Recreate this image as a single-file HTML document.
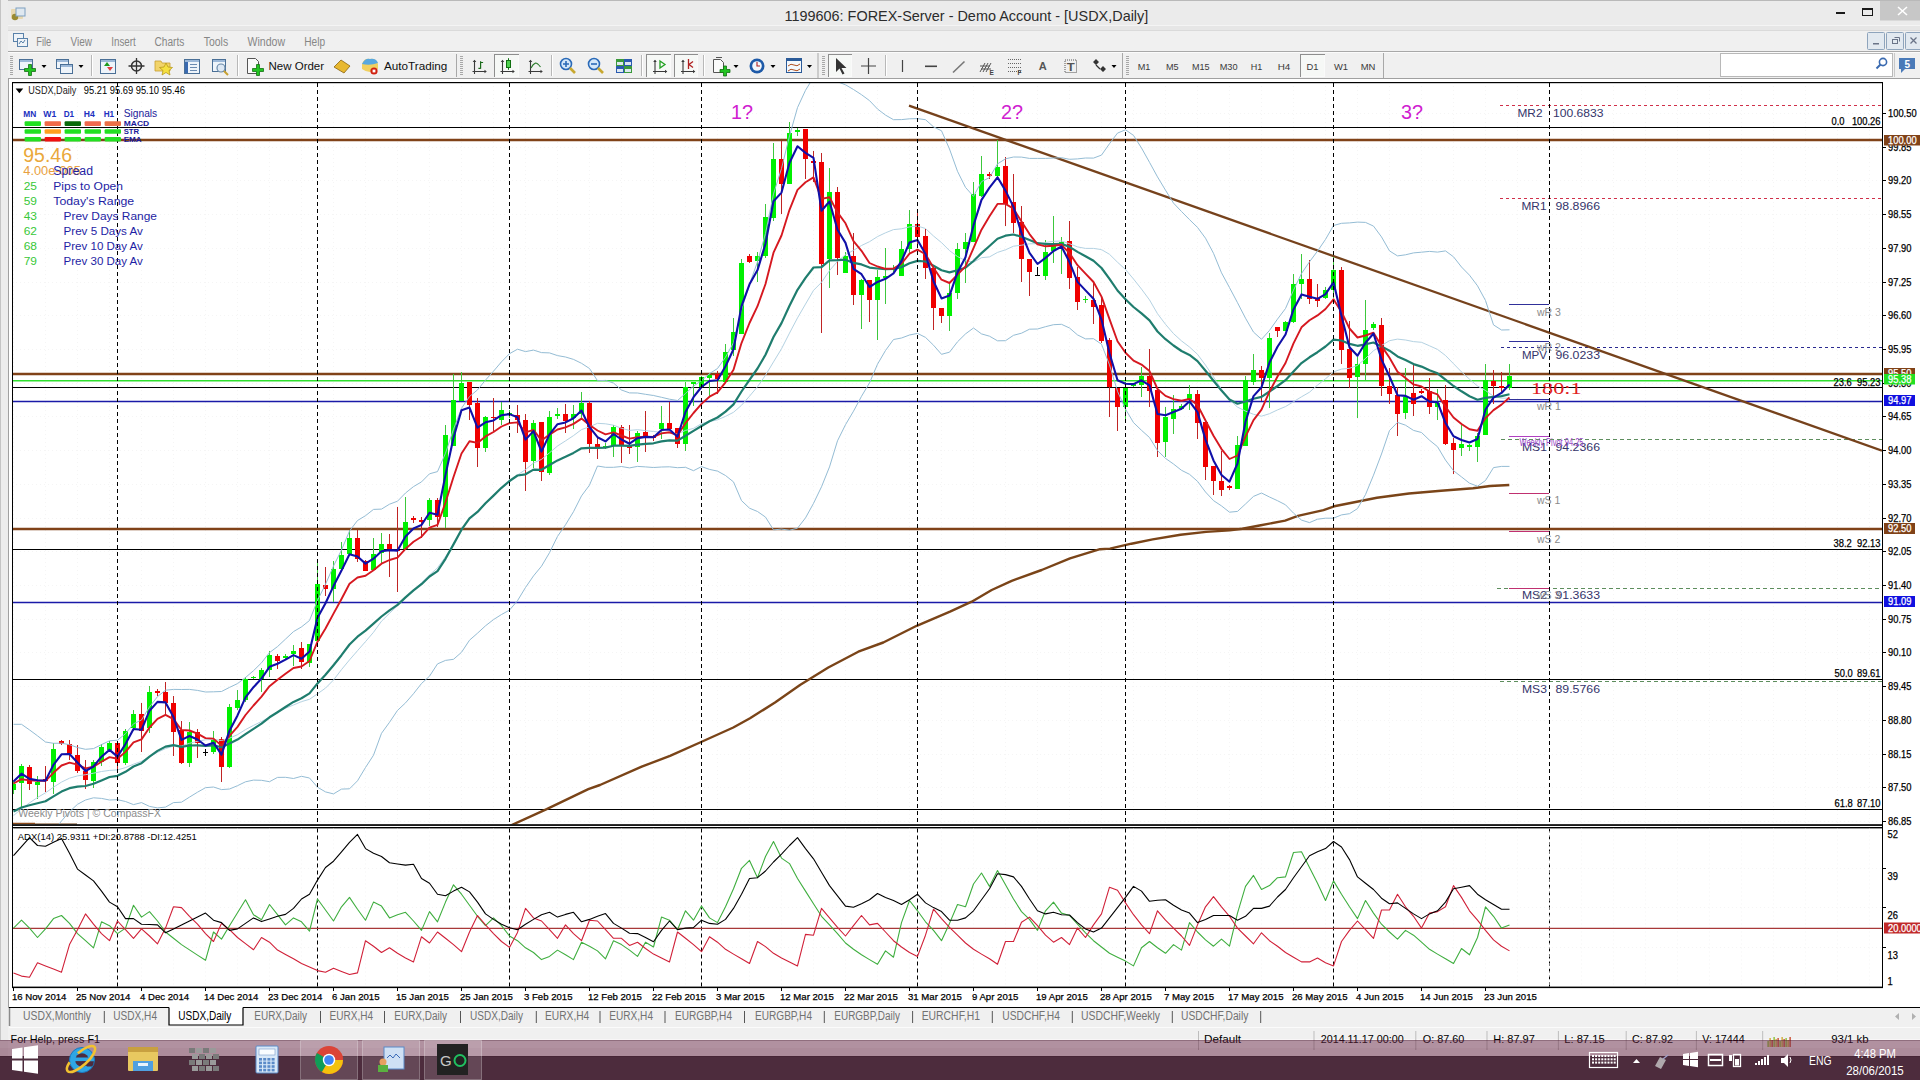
<!DOCTYPE html>
<html><head><meta charset="utf-8"><title>MT4 USDX Daily</title>
<style>html,body{margin:0;padding:0;width:1920px;height:1080px;overflow:hidden;background:#f0f0f0;}
svg{display:block;font-family:"Liberation Sans",sans-serif;}</style></head>
<body><svg width="1920" height="1080" viewBox="0 0 1920 1080" shape-rendering="auto">
<rect x="0" y="0" width="1920" height="1080" fill="#f0f0f0" />
<rect x="0" y="0" width="1920" height="30" fill="#ebebeb" />
<line x1="0" y1="0.5" x2="1920" y2="0.5" stroke="#b9b9b9" stroke-width="1" />
<line x1="8" y1="25.5" x2="1920" y2="25.5" stroke="#f4f4f4" stroke-width="1" />
<rect x="8" y="26" width="1912" height="4" fill="#e6e6e6" />
<rect x="0" y="0" width="8" height="1080" fill="#ececec" />
<line x1="0.5" y1="0" x2="0.5" y2="1040" stroke="#c4c4c4" stroke-width="1" />
<rect x="8" y="30" width="1912" height="21" fill="#f0f0f0" />
<line x1="8" y1="30.5" x2="1920" y2="30.5" stroke="#dadada" stroke-width="1" />
<line x1="8" y1="51.5" x2="1920" y2="51.5" stroke="#a8a8a8" stroke-width="1" />
<rect x="8" y="52" width="1912" height="26" fill="#f0f0f0" />
<line x1="8" y1="52.5" x2="1920" y2="52.5" stroke="#fbfbfb" stroke-width="1" />
<line x1="8" y1="78.5" x2="1920" y2="78.5" stroke="#a0a0a0" stroke-width="1" />
<rect x="9" y="79" width="1911" height="929" fill="#ffffff" />
<line x1="8.5" y1="78" x2="8.5" y2="1008" stroke="#a0a0a0" stroke-width="1" />
<defs><clipPath id="cm"><rect x="13" y="83" width="1869" height="741.5"/></clipPath><clipPath id="ca"><rect x="13" y="828.5" width="1869" height="158.0"/></clipPath></defs>
<g clip-path="url(#cm)">
<line x1="1869.5" y1="82" x2="1869.5" y2="825" stroke="#f5f5f5" stroke-width="1" stroke-dasharray="1 3" />
<line x1="1837.5" y1="82" x2="1837.5" y2="825" stroke="#f5f5f5" stroke-width="1" stroke-dasharray="1 3" />
<line x1="1805.5" y1="82" x2="1805.5" y2="825" stroke="#f5f5f5" stroke-width="1" stroke-dasharray="1 3" />
<line x1="1773.5" y1="82" x2="1773.5" y2="825" stroke="#f5f5f5" stroke-width="1" stroke-dasharray="1 3" />
<line x1="1741.5" y1="82" x2="1741.5" y2="825" stroke="#f5f5f5" stroke-width="1" stroke-dasharray="1 3" />
<line x1="1709.5" y1="82" x2="1709.5" y2="825" stroke="#f5f5f5" stroke-width="1" stroke-dasharray="1 3" />
<line x1="1677.5" y1="82" x2="1677.5" y2="825" stroke="#f5f5f5" stroke-width="1" stroke-dasharray="1 3" />
<line x1="1645.5" y1="82" x2="1645.5" y2="825" stroke="#f5f5f5" stroke-width="1" stroke-dasharray="1 3" />
<line x1="1613.5" y1="82" x2="1613.5" y2="825" stroke="#f5f5f5" stroke-width="1" stroke-dasharray="1 3" />
<line x1="1581.5" y1="82" x2="1581.5" y2="825" stroke="#f5f5f5" stroke-width="1" stroke-dasharray="1 3" />
<line x1="1549.5" y1="82" x2="1549.5" y2="825" stroke="#f5f5f5" stroke-width="1" stroke-dasharray="1 3" />
<line x1="1517.5" y1="82" x2="1517.5" y2="825" stroke="#f5f5f5" stroke-width="1" stroke-dasharray="1 3" />
<line x1="1485.5" y1="82" x2="1485.5" y2="825" stroke="#f5f5f5" stroke-width="1" stroke-dasharray="1 3" />
<line x1="1453.5" y1="82" x2="1453.5" y2="825" stroke="#f5f5f5" stroke-width="1" stroke-dasharray="1 3" />
<line x1="1421.5" y1="82" x2="1421.5" y2="825" stroke="#f5f5f5" stroke-width="1" stroke-dasharray="1 3" />
<line x1="1389.5" y1="82" x2="1389.5" y2="825" stroke="#f5f5f5" stroke-width="1" stroke-dasharray="1 3" />
<line x1="1357.5" y1="82" x2="1357.5" y2="825" stroke="#f5f5f5" stroke-width="1" stroke-dasharray="1 3" />
<line x1="1325.5" y1="82" x2="1325.5" y2="825" stroke="#f5f5f5" stroke-width="1" stroke-dasharray="1 3" />
<line x1="1293.5" y1="82" x2="1293.5" y2="825" stroke="#f5f5f5" stroke-width="1" stroke-dasharray="1 3" />
<line x1="1261.5" y1="82" x2="1261.5" y2="825" stroke="#f5f5f5" stroke-width="1" stroke-dasharray="1 3" />
<line x1="1229.5" y1="82" x2="1229.5" y2="825" stroke="#f5f5f5" stroke-width="1" stroke-dasharray="1 3" />
<line x1="1197.5" y1="82" x2="1197.5" y2="825" stroke="#f5f5f5" stroke-width="1" stroke-dasharray="1 3" />
<line x1="1165.5" y1="82" x2="1165.5" y2="825" stroke="#f5f5f5" stroke-width="1" stroke-dasharray="1 3" />
<line x1="1133.5" y1="82" x2="1133.5" y2="825" stroke="#f5f5f5" stroke-width="1" stroke-dasharray="1 3" />
<line x1="1101.5" y1="82" x2="1101.5" y2="825" stroke="#f5f5f5" stroke-width="1" stroke-dasharray="1 3" />
<line x1="1069.5" y1="82" x2="1069.5" y2="825" stroke="#f5f5f5" stroke-width="1" stroke-dasharray="1 3" />
<line x1="1037.5" y1="82" x2="1037.5" y2="825" stroke="#f5f5f5" stroke-width="1" stroke-dasharray="1 3" />
<line x1="1005.5" y1="82" x2="1005.5" y2="825" stroke="#f5f5f5" stroke-width="1" stroke-dasharray="1 3" />
<line x1="973.5" y1="82" x2="973.5" y2="825" stroke="#f5f5f5" stroke-width="1" stroke-dasharray="1 3" />
<line x1="941.5" y1="82" x2="941.5" y2="825" stroke="#f5f5f5" stroke-width="1" stroke-dasharray="1 3" />
<line x1="909.5" y1="82" x2="909.5" y2="825" stroke="#f5f5f5" stroke-width="1" stroke-dasharray="1 3" />
<line x1="877.5" y1="82" x2="877.5" y2="825" stroke="#f5f5f5" stroke-width="1" stroke-dasharray="1 3" />
<line x1="845.5" y1="82" x2="845.5" y2="825" stroke="#f5f5f5" stroke-width="1" stroke-dasharray="1 3" />
<line x1="813.5" y1="82" x2="813.5" y2="825" stroke="#f5f5f5" stroke-width="1" stroke-dasharray="1 3" />
<line x1="781.5" y1="82" x2="781.5" y2="825" stroke="#f5f5f5" stroke-width="1" stroke-dasharray="1 3" />
<line x1="749.5" y1="82" x2="749.5" y2="825" stroke="#f5f5f5" stroke-width="1" stroke-dasharray="1 3" />
<line x1="717.5" y1="82" x2="717.5" y2="825" stroke="#f5f5f5" stroke-width="1" stroke-dasharray="1 3" />
<line x1="685.5" y1="82" x2="685.5" y2="825" stroke="#f5f5f5" stroke-width="1" stroke-dasharray="1 3" />
<line x1="653.5" y1="82" x2="653.5" y2="825" stroke="#f5f5f5" stroke-width="1" stroke-dasharray="1 3" />
<line x1="621.5" y1="82" x2="621.5" y2="825" stroke="#f5f5f5" stroke-width="1" stroke-dasharray="1 3" />
<line x1="589.5" y1="82" x2="589.5" y2="825" stroke="#f5f5f5" stroke-width="1" stroke-dasharray="1 3" />
<line x1="557.5" y1="82" x2="557.5" y2="825" stroke="#f5f5f5" stroke-width="1" stroke-dasharray="1 3" />
<line x1="525.5" y1="82" x2="525.5" y2="825" stroke="#f5f5f5" stroke-width="1" stroke-dasharray="1 3" />
<line x1="493.5" y1="82" x2="493.5" y2="825" stroke="#f5f5f5" stroke-width="1" stroke-dasharray="1 3" />
<line x1="461.5" y1="82" x2="461.5" y2="825" stroke="#f5f5f5" stroke-width="1" stroke-dasharray="1 3" />
<line x1="429.5" y1="82" x2="429.5" y2="825" stroke="#f5f5f5" stroke-width="1" stroke-dasharray="1 3" />
<line x1="397.5" y1="82" x2="397.5" y2="825" stroke="#f5f5f5" stroke-width="1" stroke-dasharray="1 3" />
<line x1="365.5" y1="82" x2="365.5" y2="825" stroke="#f5f5f5" stroke-width="1" stroke-dasharray="1 3" />
<line x1="333.5" y1="82" x2="333.5" y2="825" stroke="#f5f5f5" stroke-width="1" stroke-dasharray="1 3" />
<line x1="301.5" y1="82" x2="301.5" y2="825" stroke="#f5f5f5" stroke-width="1" stroke-dasharray="1 3" />
<line x1="269.5" y1="82" x2="269.5" y2="825" stroke="#f5f5f5" stroke-width="1" stroke-dasharray="1 3" />
<line x1="237.5" y1="82" x2="237.5" y2="825" stroke="#f5f5f5" stroke-width="1" stroke-dasharray="1 3" />
<line x1="205.5" y1="82" x2="205.5" y2="825" stroke="#f5f5f5" stroke-width="1" stroke-dasharray="1 3" />
<line x1="173.5" y1="82" x2="173.5" y2="825" stroke="#f5f5f5" stroke-width="1" stroke-dasharray="1 3" />
<line x1="141.5" y1="82" x2="141.5" y2="825" stroke="#f5f5f5" stroke-width="1" stroke-dasharray="1 3" />
<line x1="109.5" y1="82" x2="109.5" y2="825" stroke="#f5f5f5" stroke-width="1" stroke-dasharray="1 3" />
<line x1="77.5" y1="82" x2="77.5" y2="825" stroke="#f5f5f5" stroke-width="1" stroke-dasharray="1 3" />
<line x1="45.5" y1="82" x2="45.5" y2="825" stroke="#f5f5f5" stroke-width="1" stroke-dasharray="1 3" />
<line x1="13.5" y1="82" x2="13.5" y2="825" stroke="#f5f5f5" stroke-width="1" stroke-dasharray="1 3" />
<line x1="12" y1="113.5" x2="1882" y2="113.5" stroke="#f5f5f5" stroke-width="1" stroke-dasharray="1 3" />
<line x1="12" y1="147.5" x2="1882" y2="147.5" stroke="#f5f5f5" stroke-width="1" stroke-dasharray="1 3" />
<line x1="12" y1="180.5" x2="1882" y2="180.5" stroke="#f5f5f5" stroke-width="1" stroke-dasharray="1 3" />
<line x1="12" y1="214.5" x2="1882" y2="214.5" stroke="#f5f5f5" stroke-width="1" stroke-dasharray="1 3" />
<line x1="12" y1="248.5" x2="1882" y2="248.5" stroke="#f5f5f5" stroke-width="1" stroke-dasharray="1 3" />
<line x1="12" y1="282.5" x2="1882" y2="282.5" stroke="#f5f5f5" stroke-width="1" stroke-dasharray="1 3" />
<line x1="12" y1="315.5" x2="1882" y2="315.5" stroke="#f5f5f5" stroke-width="1" stroke-dasharray="1 3" />
<line x1="12" y1="349.5" x2="1882" y2="349.5" stroke="#f5f5f5" stroke-width="1" stroke-dasharray="1 3" />
<line x1="12" y1="383.5" x2="1882" y2="383.5" stroke="#f5f5f5" stroke-width="1" stroke-dasharray="1 3" />
<line x1="12" y1="416.5" x2="1882" y2="416.5" stroke="#f5f5f5" stroke-width="1" stroke-dasharray="1 3" />
<line x1="12" y1="450.5" x2="1882" y2="450.5" stroke="#f5f5f5" stroke-width="1" stroke-dasharray="1 3" />
<line x1="12" y1="484.5" x2="1882" y2="484.5" stroke="#f5f5f5" stroke-width="1" stroke-dasharray="1 3" />
<line x1="12" y1="518.5" x2="1882" y2="518.5" stroke="#f5f5f5" stroke-width="1" stroke-dasharray="1 3" />
<line x1="12" y1="551.5" x2="1882" y2="551.5" stroke="#f5f5f5" stroke-width="1" stroke-dasharray="1 3" />
<line x1="12" y1="585.5" x2="1882" y2="585.5" stroke="#f5f5f5" stroke-width="1" stroke-dasharray="1 3" />
<line x1="12" y1="619.5" x2="1882" y2="619.5" stroke="#f5f5f5" stroke-width="1" stroke-dasharray="1 3" />
<line x1="12" y1="652.5" x2="1882" y2="652.5" stroke="#f5f5f5" stroke-width="1" stroke-dasharray="1 3" />
<line x1="12" y1="686.5" x2="1882" y2="686.5" stroke="#f5f5f5" stroke-width="1" stroke-dasharray="1 3" />
<line x1="12" y1="720.5" x2="1882" y2="720.5" stroke="#f5f5f5" stroke-width="1" stroke-dasharray="1 3" />
<line x1="12" y1="754.5" x2="1882" y2="754.5" stroke="#f5f5f5" stroke-width="1" stroke-dasharray="1 3" />
<line x1="12" y1="787.5" x2="1882" y2="787.5" stroke="#f5f5f5" stroke-width="1" stroke-dasharray="1 3" />
<line x1="12" y1="821.5" x2="1882" y2="821.5" stroke="#f5f5f5" stroke-width="1" stroke-dasharray="1 3" />
<line x1="1500" y1="105.5" x2="1882" y2="105.5" stroke="#d0304a" stroke-width="1" stroke-dasharray="3 3" />
<line x1="12" y1="127.5" x2="1882" y2="127.5" stroke="#000000" stroke-width="1" />
<line x1="12" y1="140" x2="1882" y2="140" stroke="#804218" stroke-width="2.4" />
<line x1="1500" y1="198.5" x2="1882" y2="198.5" stroke="#d0304a" stroke-width="1" stroke-dasharray="3 3" />
<line x1="1501" y1="347.5" x2="1882" y2="347.5" stroke="#2a2a90" stroke-width="1" stroke-dasharray="3 3" />
<line x1="12" y1="374" x2="1882" y2="374" stroke="#804218" stroke-width="2.4" />
<line x1="12" y1="380.8" x2="1882" y2="380.8" stroke="#2ee02e" stroke-width="1.6" />
<line x1="12" y1="387.5" x2="1882" y2="387.5" stroke="#000000" stroke-width="1" />
<line x1="12" y1="401.5" x2="1882" y2="401.5" stroke="#1a1aa8" stroke-width="1.4" />
<line x1="1501" y1="439.5" x2="1882" y2="439.5" stroke="#5e8e5e" stroke-width="1" stroke-dasharray="4 3" />
<line x1="12" y1="529" x2="1882" y2="529" stroke="#804218" stroke-width="2.4" />
<line x1="12" y1="549.5" x2="1882" y2="549.5" stroke="#000000" stroke-width="1" />
<line x1="1497" y1="588.5" x2="1882" y2="588.5" stroke="#5e8e5e" stroke-width="1" stroke-dasharray="4 3" />
<line x1="12" y1="602.5" x2="1882" y2="602.5" stroke="#1a1aa8" stroke-width="1.4" />
<line x1="12" y1="679.5" x2="1882" y2="679.5" stroke="#000000" stroke-width="1" />
<line x1="1500" y1="681.5" x2="1882" y2="681.5" stroke="#5e8e5e" stroke-width="1" stroke-dasharray="4 3" />
<line x1="12" y1="809.5" x2="1882" y2="809.5" stroke="#000000" stroke-width="1" />
<line x1="1509" y1="304.5" x2="1549" y2="304.5" stroke="#30309a" stroke-width="1.2" />
<line x1="1509" y1="341.5" x2="1549" y2="341.5" stroke="#30309a" stroke-width="1.2" />
<line x1="1509" y1="399.5" x2="1549" y2="399.5" stroke="#30309a" stroke-width="1.2" />
<line x1="1509" y1="436.5" x2="1549" y2="436.5" stroke="#b040c0" stroke-width="1.2" />
<line x1="1509" y1="493.5" x2="1549" y2="493.5" stroke="#c03070" stroke-width="1.2" />
<line x1="1509" y1="531.5" x2="1549" y2="531.5" stroke="#c03070" stroke-width="1.2" />
<line x1="1509" y1="588.5" x2="1549" y2="588.5" stroke="#c03070" stroke-width="1.2" />
<polyline points="510.0,825.8 546.7,809.2 588.3,789.2 600.0,785.0 641.7,766.7 670.0,755.8 700.0,742.5 733.3,727.5 750.0,718.3 775.0,702.5 800.0,685.0 828.3,667.5 858.3,651.7 883.3,642.5 916.7,625.8 950.0,611.7 971.7,601.7 991.7,590.0 1011.7,580.8 1041.7,570.0 1070.0,558.3 1100.0,549.2 1110.0,548.6 1131.4,543.7 1152.7,539.4 1180.5,534.7 1206.1,531.9 1229.6,530.4 1242.4,528.7 1259.5,525.5 1285.1,520.6 1297.9,515.9 1323.5,510.1 1334.2,506.3 1355.6,502.0 1376.9,497.8 1409.0,493.5 1441.0,490.7 1473.0,488.2 1490.1,486.0 1509.3,485.0" fill="none" stroke="#7a4418" stroke-width="2.4" stroke-linejoin="round" />
<line x1="13" y1="823.5" x2="35" y2="823.5" stroke="#8b4a1a" stroke-width="1.5" />
<line x1="35" y1="824.3" x2="77" y2="824.3" stroke="#6b3a10" stroke-width="1.5" />
<line x1="909" y1="105.6" x2="1882" y2="450.6" stroke="#76421c" stroke-width="2.3" />
<rect x="13" y="781" width="1" height="13" fill="#3cc83c" />
<rect x="11" y="784" width="5" height="6" fill="#00f000" />
<rect x="21" y="764" width="1" height="44" fill="#3cc83c" />
<rect x="19" y="766" width="5" height="17" fill="#00f000" />
<rect x="29" y="765" width="1" height="25" fill="#c02424" />
<rect x="27" y="767" width="5" height="17" fill="#f00000" />
<rect x="37" y="776" width="1" height="23" fill="#3cc83c" />
<rect x="35" y="782" width="5" height="3" fill="#00f000" />
<rect x="45" y="766" width="1" height="26" fill="#c02424" />
<rect x="43" y="779" width="5" height="2" fill="#f00000" />
<rect x="53" y="743" width="1" height="51" fill="#3cc83c" />
<rect x="51" y="749" width="5" height="33" fill="#00f000" />
<rect x="61" y="740" width="1" height="5" fill="#c02424" />
<rect x="59" y="741" width="5" height="3" fill="#f00000" />
<rect x="69" y="740" width="1" height="20" fill="#c02424" />
<rect x="67" y="744" width="5" height="10" fill="#f00000" />
<rect x="77" y="745" width="1" height="28" fill="#c02424" />
<rect x="75" y="755" width="5" height="16" fill="#f00000" />
<rect x="85" y="760" width="1" height="29" fill="#c02424" />
<rect x="83" y="771" width="5" height="9" fill="#f00000" />
<rect x="93" y="760" width="1" height="28" fill="#3cc83c" />
<rect x="91" y="762" width="5" height="19" fill="#00f000" />
<rect x="101" y="744" width="1" height="22" fill="#3cc83c" />
<rect x="99" y="747" width="5" height="15" fill="#00f000" />
<rect x="109" y="741" width="1" height="11" fill="#3cc83c" />
<rect x="107" y="743" width="5" height="7" fill="#00f000" />
<rect x="117" y="741" width="1" height="30" fill="#c02424" />
<rect x="115" y="743" width="5" height="20" fill="#f00000" />
<rect x="125" y="729" width="1" height="36" fill="#3cc83c" />
<rect x="123" y="731" width="5" height="32" fill="#00f000" />
<rect x="133" y="710" width="1" height="21" fill="#3cc83c" />
<rect x="131" y="714" width="5" height="14" fill="#00f000" />
<rect x="141" y="703" width="1" height="49" fill="#c02424" />
<rect x="139" y="714" width="5" height="17" fill="#f00000" />
<rect x="149" y="686" width="1" height="47" fill="#3cc83c" />
<rect x="147" y="692" width="5" height="36" fill="#00f000" />
<rect x="157" y="689" width="1" height="7" fill="#c02424" />
<rect x="155" y="691" width="5" height="2" fill="#f00000" />
<rect x="165" y="682" width="1" height="32" fill="#c02424" />
<rect x="163" y="692" width="5" height="11" fill="#f00000" />
<rect x="173" y="696" width="1" height="60" fill="#c02424" />
<rect x="171" y="703" width="5" height="29" fill="#f00000" />
<rect x="181" y="721" width="1" height="43" fill="#c02424" />
<rect x="179" y="730" width="5" height="33" fill="#f00000" />
<rect x="189" y="722" width="1" height="45" fill="#3cc83c" />
<rect x="187" y="732" width="5" height="31" fill="#00f000" />
<rect x="197" y="729" width="1" height="29" fill="#c02424" />
<rect x="195" y="732" width="5" height="11" fill="#f00000" />
<rect x="205" y="749" width="1" height="7" fill="#000000" />
<rect x="203" y="752" width="5" height="1" fill="#000000" />
<rect x="213" y="731" width="1" height="23" fill="#3cc83c" />
<rect x="211" y="740" width="5" height="12" fill="#00f000" />
<rect x="221" y="737" width="1" height="45" fill="#c02424" />
<rect x="219" y="739" width="5" height="28" fill="#f00000" />
<rect x="229" y="704" width="1" height="64" fill="#3cc83c" />
<rect x="227" y="707" width="5" height="60" fill="#00f000" />
<rect x="237" y="690" width="1" height="20" fill="#3cc83c" />
<rect x="235" y="700" width="5" height="8" fill="#00f000" />
<rect x="245" y="677" width="1" height="25" fill="#3cc83c" />
<rect x="243" y="679" width="5" height="21" fill="#00f000" />
<rect x="253" y="676" width="1" height="3" fill="#3cc83c" />
<rect x="251" y="677" width="5" height="1" fill="#00f000" />
<rect x="261" y="668" width="1" height="24" fill="#3cc83c" />
<rect x="259" y="670" width="5" height="9" fill="#00f000" />
<rect x="269" y="651" width="1" height="26" fill="#3cc83c" />
<rect x="267" y="655" width="5" height="15" fill="#00f000" />
<rect x="277" y="654" width="1" height="15" fill="#c02424" />
<rect x="275" y="656" width="5" height="5" fill="#f00000" />
<rect x="285" y="654" width="1" height="6" fill="#3cc83c" />
<rect x="283" y="656" width="5" height="2" fill="#00f000" />
<rect x="293" y="645" width="1" height="21" fill="#3cc83c" />
<rect x="291" y="651" width="5" height="3" fill="#00f000" />
<rect x="301" y="642" width="1" height="27" fill="#c02424" />
<rect x="299" y="648" width="5" height="14" fill="#f00000" />
<rect x="309" y="644" width="1" height="23" fill="#3cc83c" />
<rect x="307" y="644" width="5" height="19" fill="#00f000" />
<rect x="317" y="562" width="1" height="81" fill="#3cc83c" />
<rect x="315" y="584" width="5" height="57" fill="#00f000" />
<rect x="325" y="567" width="1" height="29" fill="#c02424" />
<rect x="323" y="585" width="5" height="4" fill="#f00000" />
<rect x="333" y="561" width="1" height="41" fill="#3cc83c" />
<rect x="331" y="569" width="5" height="20" fill="#00f000" />
<rect x="341" y="542" width="1" height="29" fill="#3cc83c" />
<rect x="339" y="555" width="5" height="14" fill="#00f000" />
<rect x="349" y="530" width="1" height="26" fill="#3cc83c" />
<rect x="347" y="538" width="5" height="16" fill="#00f000" />
<rect x="357" y="530" width="1" height="32" fill="#c02424" />
<rect x="355" y="538" width="5" height="21" fill="#f00000" />
<rect x="365" y="560" width="1" height="11" fill="#c02424" />
<rect x="363" y="561" width="5" height="10" fill="#f00000" />
<rect x="373" y="538" width="1" height="33" fill="#3cc83c" />
<rect x="371" y="554" width="5" height="16" fill="#00f000" />
<rect x="381" y="533" width="1" height="30" fill="#3cc83c" />
<rect x="379" y="544" width="5" height="9" fill="#00f000" />
<rect x="389" y="534" width="1" height="43" fill="#c02424" />
<rect x="387" y="544" width="5" height="5" fill="#f00000" />
<rect x="397" y="507" width="1" height="85" fill="#c02424" />
<rect x="395" y="550" width="5" height="1" fill="#f00000" />
<rect x="405" y="497" width="1" height="52" fill="#3cc83c" />
<rect x="403" y="522" width="5" height="27" fill="#00f000" />
<rect x="413" y="516" width="1" height="7" fill="#c02424" />
<rect x="411" y="518" width="5" height="2" fill="#f00000" />
<rect x="421" y="517" width="1" height="21" fill="#c02424" />
<rect x="419" y="520" width="5" height="2" fill="#f00000" />
<rect x="429" y="498" width="1" height="28" fill="#3cc83c" />
<rect x="427" y="500" width="5" height="20" fill="#00f000" />
<rect x="437" y="498" width="1" height="29" fill="#c02424" />
<rect x="435" y="500" width="5" height="17" fill="#f00000" />
<rect x="445" y="425" width="1" height="103" fill="#3cc83c" />
<rect x="443" y="435" width="5" height="82" fill="#00f000" />
<rect x="453" y="374" width="1" height="72" fill="#3cc83c" />
<rect x="451" y="400" width="5" height="46" fill="#00f000" />
<rect x="461" y="372" width="1" height="29" fill="#3cc83c" />
<rect x="459" y="383" width="5" height="18" fill="#00f000" />
<rect x="469" y="382" width="1" height="38" fill="#c02424" />
<rect x="467" y="382" width="5" height="23" fill="#f00000" />
<rect x="477" y="398" width="1" height="69" fill="#c02424" />
<rect x="475" y="403" width="5" height="45" fill="#f00000" />
<rect x="485" y="416" width="1" height="36" fill="#3cc83c" />
<rect x="483" y="417" width="5" height="31" fill="#00f000" />
<rect x="493" y="398" width="1" height="33" fill="#c02424" />
<rect x="491" y="417" width="5" height="1" fill="#f00000" />
<rect x="501" y="402" width="1" height="23" fill="#3cc83c" />
<rect x="499" y="410" width="5" height="10" fill="#00f000" />
<rect x="509" y="410" width="1" height="8" fill="#3cc83c" />
<rect x="507" y="413" width="5" height="2" fill="#00f000" />
<rect x="517" y="405" width="1" height="28" fill="#c02424" />
<rect x="515" y="415" width="5" height="5" fill="#f00000" />
<rect x="525" y="414" width="1" height="77" fill="#c02424" />
<rect x="523" y="420" width="5" height="42" fill="#f00000" />
<rect x="533" y="420" width="1" height="48" fill="#3cc83c" />
<rect x="531" y="423" width="5" height="38" fill="#00f000" />
<rect x="541" y="422" width="1" height="59" fill="#c02424" />
<rect x="539" y="422" width="5" height="50" fill="#f00000" />
<rect x="549" y="411" width="1" height="64" fill="#3cc83c" />
<rect x="547" y="417" width="5" height="56" fill="#00f000" />
<rect x="557" y="408" width="1" height="11" fill="#3cc83c" />
<rect x="555" y="414" width="5" height="2" fill="#00f000" />
<rect x="565" y="404" width="1" height="29" fill="#c02424" />
<rect x="563" y="414" width="5" height="7" fill="#f00000" />
<rect x="573" y="405" width="1" height="24" fill="#3cc83c" />
<rect x="571" y="414" width="5" height="4" fill="#00f000" />
<rect x="581" y="392" width="1" height="26" fill="#3cc83c" />
<rect x="579" y="403" width="5" height="11" fill="#00f000" />
<rect x="589" y="401" width="1" height="52" fill="#c02424" />
<rect x="587" y="403" width="5" height="41" fill="#f00000" />
<rect x="597" y="438" width="1" height="21" fill="#c02424" />
<rect x="595" y="444" width="5" height="3" fill="#f00000" />
<rect x="605" y="443" width="1" height="6" fill="#3cc83c" />
<rect x="603" y="446" width="5" height="2" fill="#00f000" />
<rect x="613" y="425" width="1" height="32" fill="#3cc83c" />
<rect x="611" y="427" width="5" height="19" fill="#00f000" />
<rect x="621" y="425" width="1" height="38" fill="#c02424" />
<rect x="619" y="427" width="5" height="18" fill="#f00000" />
<rect x="629" y="425" width="1" height="29" fill="#c02424" />
<rect x="627" y="446" width="5" height="2" fill="#f00000" />
<rect x="637" y="431" width="1" height="31" fill="#3cc83c" />
<rect x="635" y="433" width="5" height="14" fill="#00f000" />
<rect x="645" y="411" width="1" height="41" fill="#c02424" />
<rect x="643" y="432" width="5" height="4" fill="#f00000" />
<rect x="653" y="435" width="1" height="6" fill="#c02424" />
<rect x="651" y="436" width="5" height="2" fill="#f00000" />
<rect x="661" y="406" width="1" height="33" fill="#3cc83c" />
<rect x="659" y="423" width="5" height="6" fill="#00f000" />
<rect x="669" y="402" width="1" height="28" fill="#c02424" />
<rect x="667" y="423" width="5" height="6" fill="#f00000" />
<rect x="677" y="428" width="1" height="20" fill="#c02424" />
<rect x="675" y="428" width="5" height="16" fill="#f00000" />
<rect x="685" y="382" width="1" height="69" fill="#3cc83c" />
<rect x="683" y="387" width="5" height="57" fill="#00f000" />
<rect x="693" y="382" width="1" height="24" fill="#3cc83c" />
<rect x="691" y="382" width="5" height="2" fill="#00f000" />
<rect x="701" y="376" width="1" height="12" fill="#3cc83c" />
<rect x="699" y="377" width="5" height="10" fill="#00f000" />
<rect x="709" y="373" width="1" height="23" fill="#3cc83c" />
<rect x="707" y="375" width="5" height="3" fill="#00f000" />
<rect x="717" y="371" width="1" height="23" fill="#c02424" />
<rect x="715" y="374" width="5" height="5" fill="#f00000" />
<rect x="725" y="344" width="1" height="39" fill="#3cc83c" />
<rect x="723" y="352" width="5" height="30" fill="#00f000" />
<rect x="733" y="318" width="1" height="38" fill="#3cc83c" />
<rect x="731" y="332" width="5" height="18" fill="#00f000" />
<rect x="741" y="259" width="1" height="75" fill="#3cc83c" />
<rect x="739" y="263" width="5" height="71" fill="#00f000" />
<rect x="749" y="254" width="1" height="9" fill="#c02424" />
<rect x="747" y="256" width="5" height="6" fill="#f00000" />
<rect x="757" y="252" width="1" height="30" fill="#3cc83c" />
<rect x="755" y="256" width="5" height="5" fill="#00f000" />
<rect x="765" y="204" width="1" height="54" fill="#3cc83c" />
<rect x="763" y="217" width="5" height="39" fill="#00f000" />
<rect x="773" y="143" width="1" height="78" fill="#3cc83c" />
<rect x="771" y="159" width="5" height="59" fill="#00f000" />
<rect x="781" y="141" width="1" height="73" fill="#c02424" />
<rect x="779" y="159" width="5" height="25" fill="#f00000" />
<rect x="789" y="122" width="1" height="62" fill="#3cc83c" />
<rect x="787" y="133" width="5" height="51" fill="#00f000" />
<rect x="797" y="128" width="1" height="8" fill="#3cc83c" />
<rect x="795" y="130" width="5" height="2" fill="#00f000" />
<rect x="805" y="129" width="1" height="50" fill="#c02424" />
<rect x="803" y="129" width="5" height="30" fill="#f00000" />
<rect x="813" y="151" width="1" height="31" fill="#c02424" />
<rect x="811" y="161" width="5" height="2" fill="#f00000" />
<rect x="821" y="153" width="1" height="180" fill="#c02424" />
<rect x="819" y="162" width="5" height="102" fill="#f00000" />
<rect x="829" y="168" width="1" height="120" fill="#3cc83c" />
<rect x="827" y="192" width="5" height="67" fill="#00f000" />
<rect x="837" y="187" width="1" height="88" fill="#c02424" />
<rect x="835" y="192" width="5" height="66" fill="#f00000" />
<rect x="845" y="252" width="1" height="21" fill="#3cc83c" />
<rect x="843" y="256" width="5" height="17" fill="#00f000" />
<rect x="853" y="233" width="1" height="72" fill="#c02424" />
<rect x="851" y="256" width="5" height="39" fill="#f00000" />
<rect x="861" y="279" width="1" height="50" fill="#3cc83c" />
<rect x="859" y="280" width="5" height="15" fill="#00f000" />
<rect x="869" y="280" width="1" height="42" fill="#c02424" />
<rect x="867" y="280" width="5" height="20" fill="#f00000" />
<rect x="877" y="270" width="1" height="70" fill="#3cc83c" />
<rect x="875" y="277" width="5" height="23" fill="#00f000" />
<rect x="885" y="248" width="1" height="56" fill="#3cc83c" />
<rect x="883" y="276" width="5" height="2" fill="#00f000" />
<rect x="893" y="265" width="1" height="7" fill="#3cc83c" />
<rect x="891" y="268" width="5" height="2" fill="#00f000" />
<rect x="901" y="241" width="1" height="35" fill="#3cc83c" />
<rect x="899" y="249" width="5" height="27" fill="#00f000" />
<rect x="909" y="210" width="1" height="43" fill="#3cc83c" />
<rect x="907" y="224" width="5" height="25" fill="#00f000" />
<rect x="917" y="213" width="1" height="33" fill="#c02424" />
<rect x="915" y="224" width="5" height="13" fill="#f00000" />
<rect x="925" y="229" width="1" height="50" fill="#c02424" />
<rect x="923" y="236" width="5" height="32" fill="#f00000" />
<rect x="933" y="268" width="1" height="62" fill="#c02424" />
<rect x="931" y="268" width="5" height="40" fill="#f00000" />
<rect x="941" y="308" width="1" height="15" fill="#c02424" />
<rect x="939" y="308" width="5" height="8" fill="#f00000" />
<rect x="949" y="284" width="1" height="47" fill="#3cc83c" />
<rect x="947" y="293" width="5" height="23" fill="#00f000" />
<rect x="957" y="243" width="1" height="56" fill="#3cc83c" />
<rect x="955" y="249" width="5" height="44" fill="#00f000" />
<rect x="965" y="233" width="1" height="50" fill="#3cc83c" />
<rect x="963" y="242" width="5" height="7" fill="#00f000" />
<rect x="973" y="182" width="1" height="60" fill="#3cc83c" />
<rect x="971" y="194" width="5" height="48" fill="#00f000" />
<rect x="981" y="156" width="1" height="41" fill="#3cc83c" />
<rect x="979" y="174" width="5" height="22" fill="#00f000" />
<rect x="989" y="172" width="1" height="7" fill="#c02424" />
<rect x="987" y="174" width="5" height="2" fill="#f00000" />
<rect x="997" y="140" width="1" height="37" fill="#3cc83c" />
<rect x="995" y="167" width="5" height="9" fill="#00f000" />
<rect x="1005" y="157" width="1" height="69" fill="#c02424" />
<rect x="1003" y="166" width="5" height="38" fill="#f00000" />
<rect x="1013" y="174" width="1" height="59" fill="#c02424" />
<rect x="1011" y="202" width="5" height="21" fill="#f00000" />
<rect x="1021" y="206" width="1" height="76" fill="#c02424" />
<rect x="1019" y="222" width="5" height="37" fill="#f00000" />
<rect x="1029" y="259" width="1" height="37" fill="#c02424" />
<rect x="1027" y="259" width="5" height="13" fill="#f00000" />
<rect x="1037" y="267" width="1" height="9" fill="#000000" />
<rect x="1035" y="275" width="5" height="1" fill="#000000" />
<rect x="1045" y="240" width="1" height="40" fill="#3cc83c" />
<rect x="1043" y="252" width="5" height="24" fill="#00f000" />
<rect x="1053" y="216" width="1" height="47" fill="#3cc83c" />
<rect x="1051" y="244" width="5" height="7" fill="#00f000" />
<rect x="1061" y="237" width="1" height="37" fill="#3cc83c" />
<rect x="1059" y="242" width="5" height="4" fill="#00f000" />
<rect x="1069" y="221" width="1" height="68" fill="#c02424" />
<rect x="1067" y="241" width="5" height="37" fill="#f00000" />
<rect x="1077" y="267" width="1" height="43" fill="#c02424" />
<rect x="1075" y="277" width="5" height="25" fill="#f00000" />
<rect x="1085" y="296" width="1" height="7" fill="#3cc83c" />
<rect x="1083" y="299" width="5" height="1" fill="#00f000" />
<rect x="1093" y="282" width="1" height="42" fill="#c02424" />
<rect x="1091" y="300" width="5" height="7" fill="#f00000" />
<rect x="1101" y="298" width="1" height="45" fill="#c02424" />
<rect x="1099" y="305" width="5" height="36" fill="#f00000" />
<rect x="1109" y="338" width="1" height="79" fill="#c02424" />
<rect x="1107" y="340" width="5" height="47" fill="#f00000" />
<rect x="1117" y="388" width="1" height="43" fill="#c02424" />
<rect x="1115" y="388" width="5" height="19" fill="#f00000" />
<rect x="1125" y="382" width="1" height="41" fill="#3cc83c" />
<rect x="1123" y="388" width="5" height="19" fill="#00f000" />
<rect x="1133" y="383" width="1" height="4" fill="#3cc83c" />
<rect x="1131" y="384" width="5" height="2" fill="#00f000" />
<rect x="1141" y="367" width="1" height="30" fill="#3cc83c" />
<rect x="1139" y="376" width="5" height="9" fill="#00f000" />
<rect x="1149" y="349" width="1" height="58" fill="#c02424" />
<rect x="1147" y="376" width="5" height="15" fill="#f00000" />
<rect x="1157" y="390" width="1" height="67" fill="#c02424" />
<rect x="1155" y="390" width="5" height="53" fill="#f00000" />
<rect x="1165" y="407" width="1" height="50" fill="#3cc83c" />
<rect x="1163" y="417" width="5" height="25" fill="#00f000" />
<rect x="1173" y="395" width="1" height="39" fill="#3cc83c" />
<rect x="1171" y="409" width="5" height="10" fill="#00f000" />
<rect x="1181" y="404" width="1" height="6" fill="#3cc83c" />
<rect x="1179" y="406" width="5" height="3" fill="#00f000" />
<rect x="1189" y="385" width="1" height="25" fill="#3cc83c" />
<rect x="1187" y="394" width="5" height="5" fill="#00f000" />
<rect x="1197" y="390" width="1" height="49" fill="#c02424" />
<rect x="1195" y="394" width="5" height="29" fill="#f00000" />
<rect x="1205" y="422" width="1" height="58" fill="#c02424" />
<rect x="1203" y="422" width="5" height="45" fill="#f00000" />
<rect x="1213" y="466" width="1" height="29" fill="#c02424" />
<rect x="1211" y="466" width="5" height="15" fill="#f00000" />
<rect x="1221" y="451" width="1" height="45" fill="#c02424" />
<rect x="1219" y="481" width="5" height="9" fill="#f00000" />
<rect x="1229" y="485" width="1" height="5" fill="#c02424" />
<rect x="1227" y="486" width="5" height="2" fill="#f00000" />
<rect x="1237" y="436" width="1" height="53" fill="#3cc83c" />
<rect x="1235" y="445" width="5" height="44" fill="#00f000" />
<rect x="1245" y="376" width="1" height="70" fill="#3cc83c" />
<rect x="1243" y="380" width="5" height="66" fill="#00f000" />
<rect x="1253" y="354" width="1" height="31" fill="#3cc83c" />
<rect x="1251" y="370" width="5" height="12" fill="#00f000" />
<rect x="1261" y="366" width="1" height="35" fill="#c02424" />
<rect x="1259" y="370" width="5" height="8" fill="#f00000" />
<rect x="1269" y="333" width="1" height="75" fill="#3cc83c" />
<rect x="1267" y="338" width="5" height="40" fill="#00f000" />
<rect x="1277" y="327" width="1" height="10" fill="#c02424" />
<rect x="1275" y="327" width="5" height="4" fill="#f00000" />
<rect x="1285" y="321" width="1" height="10" fill="#3cc83c" />
<rect x="1283" y="322" width="5" height="9" fill="#00f000" />
<rect x="1293" y="274" width="1" height="49" fill="#3cc83c" />
<rect x="1291" y="284" width="5" height="38" fill="#00f000" />
<rect x="1301" y="254" width="1" height="45" fill="#3cc83c" />
<rect x="1299" y="279" width="5" height="5" fill="#00f000" />
<rect x="1309" y="260" width="1" height="44" fill="#c02424" />
<rect x="1307" y="279" width="5" height="20" fill="#f00000" />
<rect x="1317" y="284" width="1" height="23" fill="#c02424" />
<rect x="1315" y="298" width="5" height="3" fill="#f00000" />
<rect x="1325" y="287" width="1" height="12" fill="#3cc83c" />
<rect x="1323" y="290" width="5" height="8" fill="#00f000" />
<rect x="1333" y="257" width="1" height="41" fill="#3cc83c" />
<rect x="1331" y="270" width="5" height="20" fill="#00f000" />
<rect x="1341" y="267" width="1" height="97" fill="#c02424" />
<rect x="1339" y="270" width="5" height="80" fill="#f00000" />
<rect x="1349" y="321" width="1" height="67" fill="#c02424" />
<rect x="1347" y="349" width="5" height="29" fill="#f00000" />
<rect x="1357" y="357" width="1" height="61" fill="#3cc83c" />
<rect x="1355" y="364" width="5" height="13" fill="#00f000" />
<rect x="1365" y="300" width="1" height="81" fill="#3cc83c" />
<rect x="1363" y="330" width="5" height="34" fill="#00f000" />
<rect x="1373" y="322" width="1" height="8" fill="#3cc83c" />
<rect x="1371" y="324" width="5" height="4" fill="#00f000" />
<rect x="1381" y="318" width="1" height="78" fill="#c02424" />
<rect x="1379" y="325" width="5" height="61" fill="#f00000" />
<rect x="1389" y="368" width="1" height="36" fill="#c02424" />
<rect x="1387" y="386" width="5" height="8" fill="#f00000" />
<rect x="1397" y="387" width="1" height="49" fill="#c02424" />
<rect x="1395" y="395" width="5" height="19" fill="#f00000" />
<rect x="1405" y="368" width="1" height="51" fill="#3cc83c" />
<rect x="1403" y="397" width="5" height="16" fill="#00f000" />
<rect x="1413" y="364" width="1" height="52" fill="#c02424" />
<rect x="1411" y="393" width="5" height="11" fill="#f00000" />
<rect x="1421" y="389" width="1" height="5" fill="#c02424" />
<rect x="1419" y="391" width="5" height="2" fill="#f00000" />
<rect x="1429" y="378" width="1" height="36" fill="#c02424" />
<rect x="1427" y="391" width="5" height="16" fill="#f00000" />
<rect x="1437" y="389" width="1" height="31" fill="#3cc83c" />
<rect x="1435" y="403" width="5" height="4" fill="#00f000" />
<rect x="1445" y="385" width="1" height="60" fill="#c02424" />
<rect x="1443" y="400" width="5" height="44" fill="#f00000" />
<rect x="1453" y="438" width="1" height="36" fill="#c02424" />
<rect x="1451" y="443" width="5" height="7" fill="#f00000" />
<rect x="1461" y="425" width="1" height="31" fill="#3cc83c" />
<rect x="1459" y="444" width="5" height="4" fill="#00f000" />
<rect x="1469" y="444" width="1" height="7" fill="#3cc83c" />
<rect x="1467" y="445" width="5" height="2" fill="#00f000" />
<rect x="1477" y="433" width="1" height="29" fill="#3cc83c" />
<rect x="1475" y="436" width="5" height="11" fill="#00f000" />
<rect x="1485" y="364" width="1" height="71" fill="#3cc83c" />
<rect x="1483" y="380" width="5" height="55" fill="#00f000" />
<rect x="1493" y="370" width="1" height="34" fill="#c02424" />
<rect x="1491" y="381" width="5" height="5" fill="#f00000" />
<rect x="1501" y="372" width="1" height="20" fill="#c02424" />
<rect x="1499" y="386" width="5" height="2" fill="#f00000" />
<rect x="1509" y="364" width="1" height="26" fill="#3cc83c" />
<rect x="1507" y="376" width="5" height="12" fill="#00f000" />
<polyline points="13.5,724.3 21.5,724.3 29.5,729.9 37.5,735.8 45.5,742.0 53.5,743.3 61.5,743.2 69.5,744.7 77.5,747.5 85.5,749.3 93.5,748.6 101.5,744.6 109.5,740.8 117.5,740.2 125.5,733.7 133.5,723.8 141.5,720.0 149.5,706.8 157.5,696.6 165.5,690.2 173.5,689.4 181.5,689.5 189.5,689.4 197.5,690.4 205.5,692.0 213.5,691.8 221.5,691.5 229.5,687.4 237.5,683.6 245.5,677.5 253.5,670.7 261.5,662.8 269.5,652.6 277.5,646.6 285.5,639.1 293.5,631.6 301.5,626.9 309.5,620.5 317.5,600.4 325.5,584.3 333.5,566.0 341.5,550.0 349.5,531.0 357.5,520.5 365.5,515.7 373.5,509.4 381.5,509.1 389.5,504.2 397.5,501.2 405.5,493.0 413.5,486.6 421.5,481.9 429.5,473.8 437.5,471.6 445.5,453.2 453.5,429.2 461.5,408.3 469.5,396.5 477.5,389.9 485.5,380.1 493.5,371.2 501.5,361.8 509.5,353.7 517.5,349.2 525.5,351.6 533.5,350.1 541.5,352.6 549.5,352.9 557.5,355.6 565.5,357.0 573.5,359.4 581.5,363.3 589.5,368.5 597.5,380.7 605.5,380.4 613.5,383.0 621.5,390.0 629.5,392.9 637.5,393.0 645.5,394.3 653.5,395.5 661.5,397.3 669.5,399.2 677.5,400.5 685.5,393.5 693.5,386.1 701.5,380.6 709.5,373.6 717.5,368.5 725.5,357.2 733.5,342.7 741.5,310.0 749.5,284.3 757.5,261.8 765.5,233.4 773.5,193.9 781.5,168.5 789.5,135.9 797.5,107.6 805.5,90.3 813.5,77.3 821.5,78.0 829.5,74.2 837.5,81.8 845.5,84.8 853.5,89.5 861.5,94.7 869.5,100.6 877.5,109.0 885.5,115.1 893.5,119.7 901.5,119.6 909.5,118.8 917.5,118.6 925.5,119.7 933.5,126.8 941.5,130.8 949.5,149.0 957.5,171.3 965.5,187.4 973.5,196.4 981.5,181.6 989.5,177.6 997.5,163.9 1005.5,158.8 1013.5,157.0 1021.5,157.1 1029.5,158.4 1037.5,158.4 1045.5,158.4 1053.5,158.0 1061.5,157.7 1069.5,159.3 1077.5,158.9 1085.5,158.0 1093.5,158.1 1101.5,155.1 1109.5,143.7 1117.5,133.1 1125.5,129.8 1133.5,135.4 1141.5,148.0 1149.5,162.3 1157.5,176.9 1165.5,190.2 1173.5,203.1 1181.5,211.5 1189.5,219.6 1197.5,227.4 1205.5,238.2 1213.5,253.3 1221.5,272.8 1229.5,287.6 1237.5,302.7 1245.5,318.2 1253.5,332.1 1261.5,339.3 1269.5,330.4 1277.5,319.1 1285.5,308.5 1293.5,290.2 1301.5,273.5 1309.5,261.8 1317.5,251.1 1325.5,239.4 1333.5,225.5 1341.5,223.3 1349.5,222.9 1357.5,222.1 1365.5,222.4 1373.5,226.1 1381.5,236.9 1389.5,250.9 1397.5,255.9 1405.5,254.8 1413.5,252.9 1421.5,252.2 1429.5,251.4 1437.5,252.1 1445.5,250.9 1453.5,256.8 1461.5,267.0 1469.5,275.2 1477.5,285.8 1485.5,300.5 1493.5,324.9 1501.5,330.0 1509.5,329.8" fill="none" stroke="#94bcd4" stroke-width="1" stroke-linejoin="round" />
<polyline points="13.5,907.0 21.5,893.3 29.5,875.8 37.5,859.2 45.5,843.6 53.5,831.2 61.5,821.0 69.5,811.7 77.5,804.3 85.5,800.0 93.5,797.8 101.5,798.4 109.5,800.0 117.5,799.7 125.5,801.5 133.5,804.6 141.5,802.6 149.5,806.4 157.5,807.9 165.5,807.1 173.5,802.6 181.5,802.2 189.5,797.1 197.5,792.2 205.5,787.7 213.5,787.0 221.5,789.6 229.5,789.0 237.5,785.7 245.5,781.8 253.5,780.1 261.5,780.3 269.5,781.7 277.5,777.4 285.5,777.3 293.5,778.5 301.5,776.3 309.5,778.0 317.5,787.2 325.5,791.9 333.5,793.9 341.5,789.1 349.5,788.8 357.5,780.8 365.5,767.5 373.5,755.2 381.5,733.3 389.5,722.3 397.5,710.4 405.5,702.9 413.5,693.7 421.5,683.5 429.5,676.2 437.5,663.9 445.5,660.4 453.5,659.3 461.5,652.3 469.5,640.2 477.5,633.2 485.5,625.8 493.5,619.6 501.5,614.5 509.5,610.1 517.5,600.7 525.5,587.5 533.5,575.9 541.5,566.2 549.5,552.7 557.5,536.4 565.5,524.8 573.5,511.7 581.5,495.9 589.5,485.1 597.5,466.0 605.5,467.3 613.5,467.3 621.5,466.5 629.5,467.9 637.5,466.4 645.5,466.9 653.5,467.5 661.5,467.0 669.5,466.8 677.5,467.7 685.5,467.3 693.5,470.7 701.5,466.6 709.5,469.4 717.5,471.1 725.5,475.5 733.5,481.9 741.5,500.6 749.5,508.2 757.5,511.5 765.5,517.1 773.5,529.9 781.5,529.1 789.5,530.2 797.5,528.2 805.5,517.9 813.5,503.4 821.5,486.8 829.5,466.9 837.5,440.8 845.5,424.7 853.5,411.2 861.5,396.3 869.5,382.9 877.5,364.2 885.5,350.5 893.5,339.5 901.5,338.0 909.5,335.0 917.5,333.4 925.5,337.4 933.5,345.2 941.5,354.3 949.5,352.2 957.5,341.8 965.5,333.9 973.5,328.0 981.5,333.9 989.5,336.2 997.5,340.8 1005.5,340.7 1013.5,335.3 1021.5,333.2 1029.5,329.2 1037.5,329.0 1045.5,326.7 1053.5,324.7 1061.5,324.3 1069.5,328.0 1077.5,334.9 1085.5,338.9 1093.5,338.7 1101.5,344.2 1109.5,364.9 1117.5,391.3 1125.5,409.1 1133.5,422.6 1141.5,430.3 1149.5,437.5 1157.5,450.5 1165.5,458.4 1173.5,464.0 1181.5,470.3 1189.5,474.3 1197.5,481.3 1205.5,492.0 1213.5,500.6 1221.5,505.9 1229.5,512.2 1237.5,511.4 1245.5,504.0 1253.5,496.4 1261.5,493.0 1269.5,497.0 1277.5,500.7 1285.5,504.8 1293.5,513.1 1301.5,520.1 1309.5,522.6 1317.5,519.2 1325.5,518.2 1333.5,518.2 1341.5,514.9 1349.5,513.7 1357.5,508.6 1365.5,494.6 1373.5,475.2 1381.5,454.0 1389.5,430.5 1397.5,422.4 1405.5,425.2 1413.5,430.4 1421.5,432.5 1429.5,440.2 1437.5,446.7 1445.5,460.1 1453.5,470.7 1461.5,476.9 1469.5,483.2 1477.5,486.2 1485.5,480.5 1493.5,467.6 1501.5,466.4 1509.5,466.4" fill="none" stroke="#94bcd4" stroke-width="1" stroke-linejoin="round" />
<polyline points="13.5,815.6 21.5,808.8 29.5,802.9 37.5,797.5 45.5,792.8 53.5,787.2 61.5,782.1 69.5,778.2 77.5,775.9 85.5,774.7 93.5,773.2 101.5,771.5 109.5,770.4 117.5,769.9 125.5,767.6 133.5,764.2 141.5,761.3 149.5,756.6 157.5,752.3 165.5,748.6 173.5,746.0 181.5,745.9 189.5,743.3 197.5,741.3 205.5,739.8 213.5,739.4 221.5,740.5 229.5,738.2 237.5,734.7 245.5,729.6 253.5,725.4 261.5,721.5 269.5,717.1 277.5,712.0 285.5,708.2 293.5,705.0 301.5,701.6 309.5,699.3 317.5,693.8 325.5,688.1 333.5,680.0 341.5,669.6 349.5,659.9 357.5,650.7 365.5,641.6 373.5,632.3 381.5,621.2 389.5,613.3 397.5,605.8 405.5,598.0 413.5,590.1 421.5,582.7 429.5,575.0 437.5,567.8 445.5,556.8 453.5,544.3 461.5,530.3 469.5,518.3 477.5,511.5 485.5,502.9 493.5,495.4 501.5,488.1 509.5,481.9 517.5,475.0 525.5,469.6 533.5,463.0 541.5,459.4 549.5,452.8 557.5,446.0 565.5,440.9 573.5,435.6 581.5,429.6 589.5,426.8 597.5,423.3 605.5,423.8 613.5,425.2 621.5,428.3 629.5,430.4 637.5,429.7 645.5,430.6 653.5,431.5 661.5,432.2 669.5,433.0 677.5,434.1 685.5,430.4 693.5,428.4 701.5,423.6 709.5,421.5 717.5,419.8 725.5,416.4 733.5,412.3 741.5,405.3 749.5,396.2 757.5,386.7 765.5,375.2 773.5,361.9 781.5,348.8 789.5,333.1 797.5,317.9 805.5,304.1 813.5,290.4 821.5,282.4 829.5,270.6 837.5,261.3 845.5,254.7 853.5,250.3 861.5,245.5 869.5,241.7 877.5,236.6 885.5,232.8 893.5,229.6 901.5,228.8 909.5,226.9 917.5,226.0 925.5,228.5 933.5,236.0 941.5,242.6 949.5,250.6 957.5,256.5 965.5,260.7 973.5,262.2 981.5,257.7 989.5,256.9 997.5,252.4 1005.5,249.8 1013.5,246.2 1021.5,245.2 1029.5,243.8 1037.5,243.7 1045.5,242.5 1053.5,241.3 1061.5,241.0 1069.5,243.7 1077.5,246.9 1085.5,248.4 1093.5,248.4 1101.5,249.6 1109.5,254.3 1117.5,262.2 1125.5,269.5 1133.5,279.0 1141.5,289.1 1149.5,299.9 1157.5,313.7 1165.5,324.3 1173.5,333.6 1181.5,340.9 1189.5,347.0 1197.5,354.3 1205.5,365.1 1213.5,377.0 1221.5,389.3 1229.5,399.9 1237.5,407.1 1245.5,411.1 1253.5,414.3 1261.5,416.2 1269.5,413.7 1277.5,409.9 1285.5,406.6 1293.5,401.7 1301.5,396.8 1309.5,392.2 1317.5,385.1 1325.5,378.8 1333.5,371.9 1341.5,369.1 1349.5,368.3 1357.5,365.4 1365.5,358.5 1373.5,350.7 1381.5,345.5 1389.5,340.7 1397.5,339.1 1405.5,340.0 1413.5,341.6 1421.5,342.3 1429.5,345.8 1437.5,349.4 1445.5,355.5 1453.5,363.7 1461.5,371.9 1469.5,379.2 1477.5,386.0 1485.5,390.5 1493.5,396.3 1501.5,398.2 1509.5,398.1" fill="none" stroke="#b4d2e2" stroke-width="1" stroke-linejoin="round" />
<polyline points="13.5,811.6 21.5,807.5 29.5,805.3 37.5,803.2 45.5,801.2 53.5,796.4 61.5,791.6 69.5,788.2 77.5,786.6 85.5,786.0 93.5,783.8 101.5,780.4 109.5,777.0 117.5,775.8 125.5,771.8 133.5,766.5 141.5,763.2 149.5,756.7 157.5,750.9 165.5,746.6 173.5,745.2 181.5,746.8 189.5,745.5 197.5,745.3 205.5,745.8 213.5,745.3 221.5,747.2 229.5,743.6 237.5,739.6 245.5,734.1 253.5,728.9 261.5,723.6 269.5,717.3 277.5,712.2 285.5,707.0 293.5,701.9 301.5,698.3 309.5,693.4 317.5,683.4 325.5,674.8 333.5,665.2 341.5,655.2 349.5,644.5 357.5,636.7 365.5,630.7 373.5,623.7 381.5,616.5 389.5,610.3 397.5,604.9 405.5,597.4 413.5,590.4 421.5,584.2 429.5,576.5 437.5,571.1 445.5,558.8 453.5,544.4 461.5,529.7 469.5,518.3 477.5,511.9 485.5,503.3 493.5,495.6 501.5,487.8 509.5,481.0 517.5,475.5 525.5,474.3 533.5,469.6 541.5,469.8 549.5,465.0 557.5,460.4 565.5,456.8 573.5,452.9 581.5,448.3 589.5,447.9 597.5,447.9 605.5,447.6 613.5,445.7 621.5,445.7 629.5,445.9 637.5,444.7 645.5,443.9 653.5,443.3 661.5,441.4 669.5,440.3 677.5,440.6 685.5,435.8 693.5,430.9 701.5,426.0 709.5,421.3 717.5,417.5 725.5,411.6 733.5,404.4 741.5,391.5 749.5,379.8 757.5,368.5 765.5,354.8 773.5,337.0 781.5,323.1 789.5,305.8 797.5,289.8 805.5,277.9 813.5,267.5 821.5,267.1 829.5,260.3 837.5,260.1 845.5,259.7 853.5,262.9 861.5,264.4 869.5,267.6 877.5,268.5 885.5,269.1 893.5,269.0 901.5,267.2 909.5,263.3 917.5,260.9 925.5,261.5 933.5,265.8 941.5,270.3 949.5,272.4 957.5,270.3 965.5,267.7 973.5,261.0 981.5,253.1 989.5,246.0 997.5,238.8 1005.5,235.7 1013.5,234.5 1021.5,236.8 1029.5,240.0 1037.5,243.2 1045.5,244.0 1053.5,244.0 1061.5,243.8 1069.5,246.9 1077.5,251.9 1085.5,256.2 1093.5,260.8 1101.5,268.0 1109.5,278.8 1117.5,290.5 1125.5,299.3 1133.5,307.0 1141.5,313.4 1149.5,320.4 1157.5,331.5 1165.5,339.2 1173.5,345.5 1181.5,351.0 1189.5,354.9 1197.5,361.1 1205.5,370.7 1213.5,380.8 1221.5,390.6 1229.5,399.5 1237.5,403.7 1245.5,401.5 1253.5,398.7 1261.5,396.9 1269.5,391.5 1277.5,386.0 1285.5,380.2 1293.5,371.5 1301.5,363.1 1309.5,357.3 1317.5,352.2 1325.5,346.5 1333.5,339.6 1341.5,340.5 1349.5,343.9 1357.5,345.8 1365.5,344.3 1373.5,342.5 1381.5,346.4 1389.5,350.7 1397.5,356.4 1405.5,360.1 1413.5,364.1 1421.5,366.6 1429.5,370.3 1437.5,373.3 1445.5,379.7 1453.5,386.0 1461.5,391.3 1469.5,396.2 1477.5,399.7 1485.5,397.9 1493.5,396.9 1501.5,396.1 1509.5,394.3" fill="none" stroke="#1f7d6e" stroke-width="2.2" stroke-linejoin="round" />
<polyline points="13.5,783.5 21.5,779.2 29.5,780.4 37.5,780.7 45.5,780.8 53.5,772.8 61.5,765.5 69.5,762.7 77.5,764.6 85.5,768.4 93.5,766.8 101.5,761.8 109.5,757.1 117.5,758.7 125.5,751.9 133.5,742.4 141.5,739.4 149.5,727.5 157.5,718.9 165.5,714.9 173.5,719.1 181.5,730.0 189.5,730.5 197.5,733.6 205.5,738.1 213.5,738.6 221.5,745.6 229.5,735.9 237.5,726.9 245.5,715.0 253.5,705.5 261.5,696.6 269.5,686.2 277.5,679.8 285.5,673.8 293.5,668.0 301.5,666.5 309.5,661.0 317.5,641.7 325.5,628.5 333.5,613.6 341.5,599.0 349.5,583.7 357.5,577.5 365.5,575.8 373.5,570.3 381.5,563.7 389.5,560.0 397.5,557.7 405.5,548.9 413.5,541.8 421.5,536.7 429.5,527.6 437.5,524.9 445.5,502.5 453.5,477.0 461.5,453.5 469.5,441.3 477.5,442.9 485.5,436.4 493.5,432.0 501.5,426.5 509.5,423.1 517.5,422.4 525.5,432.3 533.5,429.9 541.5,440.5 549.5,434.6 557.5,429.5 565.5,427.3 573.5,423.9 581.5,418.6 589.5,425.0 597.5,430.5 605.5,434.3 613.5,432.4 621.5,435.5 629.5,438.6 637.5,437.2 645.5,436.8 653.5,436.9 661.5,433.4 669.5,432.3 677.5,435.2 685.5,423.2 693.5,413.0 701.5,403.9 709.5,396.7 717.5,392.4 725.5,382.3 733.5,369.8 741.5,343.1 749.5,323.0 757.5,306.2 765.5,284.0 773.5,252.7 781.5,235.5 789.5,209.8 797.5,189.9 805.5,182.2 813.5,177.4 821.5,198.9 829.5,197.3 837.5,212.4 845.5,223.3 853.5,241.2 861.5,250.8 869.5,263.0 877.5,266.5 885.5,268.8 893.5,268.6 901.5,263.6 909.5,253.7 917.5,249.6 925.5,254.2 933.5,267.7 941.5,279.7 949.5,283.0 957.5,274.6 965.5,266.4 973.5,248.2 981.5,229.7 989.5,216.2 997.5,203.9 1005.5,203.9 1013.5,208.7 1021.5,221.4 1029.5,234.1 1037.5,244.4 1045.5,246.3 1053.5,245.7 1061.5,244.8 1069.5,253.0 1077.5,265.2 1085.5,273.6 1093.5,282.0 1101.5,296.6 1109.5,319.1 1117.5,341.2 1125.5,352.7 1133.5,360.6 1141.5,364.6 1149.5,371.1 1157.5,389.0 1165.5,395.9 1173.5,399.1 1181.5,400.7 1189.5,399.0 1197.5,405.0 1205.5,420.5 1213.5,435.7 1221.5,449.1 1229.5,459.0 1237.5,455.5 1245.5,436.7 1253.5,420.1 1261.5,409.7 1269.5,391.7 1277.5,376.5 1285.5,363.0 1293.5,343.3 1301.5,327.3 1309.5,320.3 1317.5,315.4 1325.5,309.0 1333.5,299.3 1341.5,311.9 1349.5,328.5 1357.5,337.5 1365.5,335.5 1373.5,332.7 1381.5,345.9 1389.5,357.8 1397.5,371.8 1405.5,378.0 1413.5,384.4 1421.5,386.5 1429.5,391.6 1437.5,394.4 1445.5,406.7 1453.5,417.5 1461.5,424.0 1469.5,429.3 1477.5,430.8 1485.5,418.1 1493.5,410.1 1501.5,404.6 1509.5,397.5" fill="none" stroke="#d61820" stroke-width="1.9" stroke-linejoin="round" />
<polyline points="13.5,781.4 21.5,773.7 29.5,778.9 37.5,780.3 45.5,780.6 53.5,764.8 61.5,754.3 69.5,754.1 77.5,762.4 85.5,771.0 93.5,766.5 101.5,756.7 109.5,749.9 117.5,756.6 125.5,744.0 133.5,729.0 141.5,729.8 149.5,710.7 157.5,701.9 165.5,702.4 173.5,717.1 181.5,739.9 189.5,736.0 197.5,739.5 205.5,745.5 213.5,742.7 221.5,754.7 229.5,730.7 237.5,715.4 245.5,697.4 253.5,687.2 261.5,678.6 269.5,666.8 277.5,663.7 285.5,659.6 293.5,655.1 301.5,658.7 309.5,651.5 317.5,617.7 325.5,603.3 333.5,586.1 341.5,570.6 349.5,554.2 357.5,556.5 365.5,563.6 373.5,558.7 381.5,551.3 389.5,550.1 397.5,550.6 405.5,536.4 413.5,528.4 421.5,525.0 429.5,512.7 437.5,514.7 445.5,474.9 453.5,437.7 461.5,410.3 469.5,407.6 477.5,427.7 485.5,422.3 493.5,420.4 501.5,415.2 509.5,414.1 517.5,417.3 525.5,439.6 533.5,431.1 541.5,451.6 549.5,434.4 557.5,424.2 565.5,422.4 573.5,418.2 581.5,410.5 589.5,427.2 597.5,437.2 605.5,441.4 613.5,434.0 621.5,439.5 629.5,443.7 637.5,438.2 645.5,436.9 653.5,437.2 661.5,430.0 669.5,429.5 677.5,436.7 685.5,411.9 693.5,397.2 701.5,387.0 709.5,381.0 717.5,380.2 725.5,366.2 733.5,349.2 741.5,306.2 749.5,284.3 757.5,270.1 765.5,243.7 773.5,201.3 781.5,192.6 789.5,162.7 797.5,146.3 805.5,152.9 813.5,157.8 821.5,210.7 829.5,201.5 837.5,229.7 845.5,242.9 853.5,268.9 861.5,274.2 869.5,287.0 877.5,281.9 885.5,278.8 893.5,273.4 901.5,261.1 909.5,242.5 917.5,239.9 925.5,253.9 933.5,281.2 941.5,298.4 949.5,295.6 957.5,272.4 965.5,257.2 973.5,225.4 981.5,199.9 989.5,187.7 997.5,177.3 1005.5,190.6 1013.5,206.9 1021.5,233.2 1029.5,252.8 1037.5,264.0 1045.5,257.9 1053.5,251.0 1061.5,246.5 1069.5,262.1 1077.5,281.9 1085.5,290.4 1093.5,298.7 1101.5,319.6 1109.5,353.2 1117.5,380.2 1125.5,383.8 1133.5,384.1 1141.5,380.3 1149.5,385.4 1157.5,414.0 1165.5,415.3 1173.5,412.0 1181.5,408.8 1189.5,401.3 1197.5,412.1 1205.5,439.6 1213.5,460.4 1221.5,475.0 1229.5,481.7 1237.5,463.5 1245.5,421.7 1253.5,396.1 1261.5,387.3 1269.5,362.5 1277.5,346.8 1285.5,334.5 1293.5,309.4 1301.5,294.4 1309.5,296.8 1317.5,298.8 1325.5,294.2 1333.5,282.3 1341.5,315.9 1349.5,347.2 1357.5,355.8 1365.5,342.7 1373.5,333.5 1381.5,359.5 1389.5,376.5 1397.5,395.2 1405.5,395.9 1413.5,399.8 1421.5,396.2 1429.5,401.6 1437.5,402.2 1445.5,423.0 1453.5,436.3 1461.5,440.0 1469.5,442.5 1477.5,439.0 1485.5,409.5 1493.5,397.7 1501.5,392.9 1509.5,384.6" fill="none" stroke="#1010a8" stroke-width="2.1" stroke-linejoin="round" />
</g>
<line x1="117.5" y1="83" x2="117.5" y2="825" stroke="#000000" stroke-width="1" stroke-dasharray="4 3" />
<line x1="117.5" y1="828.5" x2="117.5" y2="987" stroke="#000000" stroke-width="1" stroke-dasharray="4 3" />
<line x1="317.5" y1="83" x2="317.5" y2="825" stroke="#000000" stroke-width="1" stroke-dasharray="4 3" />
<line x1="317.5" y1="828.5" x2="317.5" y2="987" stroke="#000000" stroke-width="1" stroke-dasharray="4 3" />
<line x1="509.5" y1="83" x2="509.5" y2="825" stroke="#000000" stroke-width="1" stroke-dasharray="4 3" />
<line x1="509.5" y1="828.5" x2="509.5" y2="987" stroke="#000000" stroke-width="1" stroke-dasharray="4 3" />
<line x1="701.5" y1="83" x2="701.5" y2="825" stroke="#000000" stroke-width="1" stroke-dasharray="4 3" />
<line x1="701.5" y1="828.5" x2="701.5" y2="987" stroke="#000000" stroke-width="1" stroke-dasharray="4 3" />
<line x1="917.5" y1="83" x2="917.5" y2="825" stroke="#000000" stroke-width="1" stroke-dasharray="4 3" />
<line x1="917.5" y1="828.5" x2="917.5" y2="987" stroke="#000000" stroke-width="1" stroke-dasharray="4 3" />
<line x1="1125.5" y1="83" x2="1125.5" y2="825" stroke="#000000" stroke-width="1" stroke-dasharray="4 3" />
<line x1="1125.5" y1="828.5" x2="1125.5" y2="987" stroke="#000000" stroke-width="1" stroke-dasharray="4 3" />
<line x1="1333.5" y1="83" x2="1333.5" y2="825" stroke="#000000" stroke-width="1" stroke-dasharray="4 3" />
<line x1="1333.5" y1="828.5" x2="1333.5" y2="987" stroke="#000000" stroke-width="1" stroke-dasharray="4 3" />
<line x1="1549.5" y1="83" x2="1549.5" y2="825" stroke="#000000" stroke-width="1" stroke-dasharray="4 3" />
<line x1="1549.5" y1="828.5" x2="1549.5" y2="987" stroke="#000000" stroke-width="1" stroke-dasharray="4 3" />
<rect x="12" y="82" width="1871" height="1.2" fill="#000" />
<rect x="12" y="824.2" width="1871" height="1.7" fill="#000" />
<rect x="12" y="827" width="1871" height="1.4" fill="#000" />
<rect x="12" y="986.6" width="1871" height="1.5" fill="#000" />
<rect x="12" y="82" width="1" height="906" fill="#000" />
<rect x="1882" y="82" width="1" height="906" fill="#000" />
<line x1="1882" y1="113.5" x2="1886" y2="113.5" stroke="#000" stroke-width="1" />
<text x="1888" y="116.8" font-family="Liberation Sans" font-size="10.4" fill="#000" textLength="28.62" lengthAdjust="spacingAndGlyphs" stroke="#000" stroke-width="0.25">100.50</text>
<line x1="1882" y1="147.5" x2="1886" y2="147.5" stroke="#000" stroke-width="1" />
<text x="1888" y="150.8" font-family="Liberation Sans" font-size="10.4" fill="#000" textLength="23.42" lengthAdjust="spacingAndGlyphs" stroke="#000" stroke-width="0.25">99.85</text>
<line x1="1882" y1="180.5" x2="1886" y2="180.5" stroke="#000" stroke-width="1" />
<text x="1888" y="183.8" font-family="Liberation Sans" font-size="10.4" fill="#000" textLength="23.42" lengthAdjust="spacingAndGlyphs" stroke="#000" stroke-width="0.25">99.20</text>
<line x1="1882" y1="214.5" x2="1886" y2="214.5" stroke="#000" stroke-width="1" />
<text x="1888" y="217.8" font-family="Liberation Sans" font-size="10.4" fill="#000" textLength="23.42" lengthAdjust="spacingAndGlyphs" stroke="#000" stroke-width="0.25">98.55</text>
<line x1="1882" y1="248.5" x2="1886" y2="248.5" stroke="#000" stroke-width="1" />
<text x="1888" y="251.8" font-family="Liberation Sans" font-size="10.4" fill="#000" textLength="23.42" lengthAdjust="spacingAndGlyphs" stroke="#000" stroke-width="0.25">97.90</text>
<line x1="1882" y1="282.5" x2="1886" y2="282.5" stroke="#000" stroke-width="1" />
<text x="1888" y="285.8" font-family="Liberation Sans" font-size="10.4" fill="#000" textLength="23.42" lengthAdjust="spacingAndGlyphs" stroke="#000" stroke-width="0.25">97.25</text>
<line x1="1882" y1="315.5" x2="1886" y2="315.5" stroke="#000" stroke-width="1" />
<text x="1888" y="318.8" font-family="Liberation Sans" font-size="10.4" fill="#000" textLength="23.42" lengthAdjust="spacingAndGlyphs" stroke="#000" stroke-width="0.25">96.60</text>
<line x1="1882" y1="349.5" x2="1886" y2="349.5" stroke="#000" stroke-width="1" />
<text x="1888" y="352.8" font-family="Liberation Sans" font-size="10.4" fill="#000" textLength="23.42" lengthAdjust="spacingAndGlyphs" stroke="#000" stroke-width="0.25">95.95</text>
<line x1="1882" y1="383.5" x2="1886" y2="383.5" stroke="#000" stroke-width="1" />
<text x="1888" y="386.8" font-family="Liberation Sans" font-size="10.4" fill="#000" textLength="23.42" lengthAdjust="spacingAndGlyphs" stroke="#000" stroke-width="0.25">95.30</text>
<line x1="1882" y1="416.5" x2="1886" y2="416.5" stroke="#000" stroke-width="1" />
<text x="1888" y="419.8" font-family="Liberation Sans" font-size="10.4" fill="#000" textLength="23.42" lengthAdjust="spacingAndGlyphs" stroke="#000" stroke-width="0.25">94.65</text>
<line x1="1882" y1="450.5" x2="1886" y2="450.5" stroke="#000" stroke-width="1" />
<text x="1888" y="453.8" font-family="Liberation Sans" font-size="10.4" fill="#000" textLength="23.42" lengthAdjust="spacingAndGlyphs" stroke="#000" stroke-width="0.25">94.00</text>
<line x1="1882" y1="484.5" x2="1886" y2="484.5" stroke="#000" stroke-width="1" />
<text x="1888" y="487.8" font-family="Liberation Sans" font-size="10.4" fill="#000" textLength="23.42" lengthAdjust="spacingAndGlyphs" stroke="#000" stroke-width="0.25">93.35</text>
<line x1="1882" y1="518.5" x2="1886" y2="518.5" stroke="#000" stroke-width="1" />
<text x="1888" y="521.8" font-family="Liberation Sans" font-size="10.4" fill="#000" textLength="23.42" lengthAdjust="spacingAndGlyphs" stroke="#000" stroke-width="0.25">92.70</text>
<line x1="1882" y1="551.5" x2="1886" y2="551.5" stroke="#000" stroke-width="1" />
<text x="1888" y="554.8" font-family="Liberation Sans" font-size="10.4" fill="#000" textLength="23.42" lengthAdjust="spacingAndGlyphs" stroke="#000" stroke-width="0.25">92.05</text>
<line x1="1882" y1="585.5" x2="1886" y2="585.5" stroke="#000" stroke-width="1" />
<text x="1888" y="588.8" font-family="Liberation Sans" font-size="10.4" fill="#000" textLength="23.42" lengthAdjust="spacingAndGlyphs" stroke="#000" stroke-width="0.25">91.40</text>
<line x1="1882" y1="619.5" x2="1886" y2="619.5" stroke="#000" stroke-width="1" />
<text x="1888" y="622.8" font-family="Liberation Sans" font-size="10.4" fill="#000" textLength="23.42" lengthAdjust="spacingAndGlyphs" stroke="#000" stroke-width="0.25">90.75</text>
<line x1="1882" y1="652.5" x2="1886" y2="652.5" stroke="#000" stroke-width="1" />
<text x="1888" y="655.8" font-family="Liberation Sans" font-size="10.4" fill="#000" textLength="23.42" lengthAdjust="spacingAndGlyphs" stroke="#000" stroke-width="0.25">90.10</text>
<line x1="1882" y1="686.5" x2="1886" y2="686.5" stroke="#000" stroke-width="1" />
<text x="1888" y="689.8" font-family="Liberation Sans" font-size="10.4" fill="#000" textLength="23.42" lengthAdjust="spacingAndGlyphs" stroke="#000" stroke-width="0.25">89.45</text>
<line x1="1882" y1="720.5" x2="1886" y2="720.5" stroke="#000" stroke-width="1" />
<text x="1888" y="723.8" font-family="Liberation Sans" font-size="10.4" fill="#000" textLength="23.42" lengthAdjust="spacingAndGlyphs" stroke="#000" stroke-width="0.25">88.80</text>
<line x1="1882" y1="754.5" x2="1886" y2="754.5" stroke="#000" stroke-width="1" />
<text x="1888" y="757.8" font-family="Liberation Sans" font-size="10.4" fill="#000" textLength="23.42" lengthAdjust="spacingAndGlyphs" stroke="#000" stroke-width="0.25">88.15</text>
<line x1="1882" y1="787.5" x2="1886" y2="787.5" stroke="#000" stroke-width="1" />
<text x="1888" y="790.8" font-family="Liberation Sans" font-size="10.4" fill="#000" textLength="23.42" lengthAdjust="spacingAndGlyphs" stroke="#000" stroke-width="0.25">87.50</text>
<line x1="1882" y1="821.5" x2="1886" y2="821.5" stroke="#000" stroke-width="1" />
<text x="1888" y="824.8" font-family="Liberation Sans" font-size="10.4" fill="#000" textLength="23.42" lengthAdjust="spacingAndGlyphs" stroke="#000" stroke-width="0.25">86.85</text>
<rect x="1884" y="135" width="36" height="10.5" fill="#804218" />
<text x="1888" y="144.05" font-family="Liberation Sans" font-size="10.4" fill="#fff" textLength="28.62" lengthAdjust="spacingAndGlyphs" stroke="#fff" stroke-width="0.25">100.00</text>
<rect x="1884" y="368" width="31" height="11" fill="#804218" />
<text x="1888" y="377.3" font-family="Liberation Sans" font-size="10.4" fill="#fff" textLength="23.42" lengthAdjust="spacingAndGlyphs" stroke="#fff" stroke-width="0.25">95.50</text>
<rect x="1884" y="374" width="31" height="10.5" fill="#22e022" />
<text x="1888" y="383.05" font-family="Liberation Sans" font-size="10.4" fill="#fff" textLength="23.42" lengthAdjust="spacingAndGlyphs" stroke="#fff" stroke-width="0.25">95.38</text>
<rect x="1884" y="395" width="31" height="11" fill="#1010e0" />
<text x="1888" y="404.3" font-family="Liberation Sans" font-size="10.4" fill="#fff" textLength="23.42" lengthAdjust="spacingAndGlyphs" stroke="#fff" stroke-width="0.25">94.97</text>
<rect x="1884" y="523" width="31" height="11" fill="#804218" />
<text x="1888" y="532.3" font-family="Liberation Sans" font-size="10.4" fill="#fff" textLength="23.42" lengthAdjust="spacingAndGlyphs" stroke="#fff" stroke-width="0.25">92.50</text>
<rect x="1884" y="596" width="31" height="11" fill="#1010e0" />
<text x="1888" y="605.3" font-family="Liberation Sans" font-size="10.4" fill="#fff" textLength="23.42" lengthAdjust="spacingAndGlyphs" stroke="#fff" stroke-width="0.25">91.09</text>
<text x="1880.5" y="125" font-family="Liberation Sans" font-size="10.4" fill="#000" textLength="28.62" lengthAdjust="spacingAndGlyphs" text-anchor="end" stroke="#000" stroke-width="0.25">100.26</text>
<text x="1831.5" y="125" font-family="Liberation Sans" font-size="10.4" fill="#000" textLength="13.01" lengthAdjust="spacingAndGlyphs" stroke="#000" stroke-width="0.25">0.0</text>
<text x="1880.5" y="385.5" font-family="Liberation Sans" font-size="10.4" fill="#000" textLength="23.42" lengthAdjust="spacingAndGlyphs" text-anchor="end" stroke="#000" stroke-width="0.25">95.23</text>
<text x="1833.5" y="385.5" font-family="Liberation Sans" font-size="10.4" fill="#000" textLength="18.21" lengthAdjust="spacingAndGlyphs" stroke="#000" stroke-width="0.25">23.6</text>
<text x="1880.5" y="547" font-family="Liberation Sans" font-size="10.4" fill="#000" textLength="23.42" lengthAdjust="spacingAndGlyphs" text-anchor="end" stroke="#000" stroke-width="0.25">92.13</text>
<text x="1833.5" y="547" font-family="Liberation Sans" font-size="10.4" fill="#000" textLength="18.21" lengthAdjust="spacingAndGlyphs" stroke="#000" stroke-width="0.25">38.2</text>
<text x="1880.5" y="677" font-family="Liberation Sans" font-size="10.4" fill="#000" textLength="23.42" lengthAdjust="spacingAndGlyphs" text-anchor="end" stroke="#000" stroke-width="0.25">89.61</text>
<text x="1834.5" y="677" font-family="Liberation Sans" font-size="10.4" fill="#000" textLength="18.21" lengthAdjust="spacingAndGlyphs" stroke="#000" stroke-width="0.25">50.0</text>
<text x="1880.5" y="806.5" font-family="Liberation Sans" font-size="10.4" fill="#000" textLength="23.42" lengthAdjust="spacingAndGlyphs" text-anchor="end" stroke="#000" stroke-width="0.25">87.10</text>
<text x="1834.5" y="806.5" font-family="Liberation Sans" font-size="10.4" fill="#000" textLength="18.21" lengthAdjust="spacingAndGlyphs" stroke="#000" stroke-width="0.25">61.8</text>
<text x="1517.5" y="117" font-family="Liberation Sans" font-size="11.5" fill="#34346a" textLength="25" lengthAdjust="spacingAndGlyphs" >MR2</text>
<text x="1553" y="117" font-family="Liberation Sans" font-size="11.5" fill="#34346a" textLength="50.5" lengthAdjust="spacingAndGlyphs" >100.6833</text>
<text x="1521.5" y="209.5" font-family="Liberation Sans" font-size="11.5" fill="#34346a" textLength="25" lengthAdjust="spacingAndGlyphs" >MR1</text>
<text x="1555.5" y="209.5" font-family="Liberation Sans" font-size="11.5" fill="#34346a" textLength="44.5" lengthAdjust="spacingAndGlyphs" >98.8966</text>
<text x="1522" y="359" font-family="Liberation Sans" font-size="11.5" fill="#34346a" textLength="25" lengthAdjust="spacingAndGlyphs" >MPV</text>
<text x="1555.5" y="359" font-family="Liberation Sans" font-size="11.5" fill="#34346a" textLength="44.5" lengthAdjust="spacingAndGlyphs" >96.0233</text>
<text x="1522" y="450.5" font-family="Liberation Sans" font-size="11.5" fill="#34346a" textLength="25" lengthAdjust="spacingAndGlyphs" >MS1</text>
<text x="1555.5" y="450.5" font-family="Liberation Sans" font-size="11.5" fill="#34346a" textLength="44.5" lengthAdjust="spacingAndGlyphs" >94.2366</text>
<text x="1522" y="599" font-family="Liberation Sans" font-size="11.5" fill="#34346a" textLength="25" lengthAdjust="spacingAndGlyphs" >MS2</text>
<text x="1555.5" y="599" font-family="Liberation Sans" font-size="11.5" fill="#34346a" textLength="44.5" lengthAdjust="spacingAndGlyphs" >91.3633</text>
<text x="1522" y="692.5" font-family="Liberation Sans" font-size="11.5" fill="#34346a" textLength="25" lengthAdjust="spacingAndGlyphs" >MS3</text>
<text x="1555.5" y="692.5" font-family="Liberation Sans" font-size="11.5" fill="#34346a" textLength="44.5" lengthAdjust="spacingAndGlyphs" >89.5766</text>
<text x="1537" y="315.5" font-family="Liberation Sans" font-size="10.5" fill="#8a8a8a" >wR 3</text>
<text x="1537" y="351" font-family="Liberation Sans" font-size="10.5" fill="#8a8a8a" >wR 2</text>
<text x="1537" y="410" font-family="Liberation Sans" font-size="10.5" fill="#8a8a8a" >wR 1</text>
<text x="1537" y="504" font-family="Liberation Sans" font-size="10.5" fill="#8a8a8a" >wS 1</text>
<text x="1537" y="542.5" font-family="Liberation Sans" font-size="10.5" fill="#8a8a8a" >wS 2</text>
<text x="1537" y="599" font-family="Liberation Sans" font-size="10.5" fill="#8a8a8a" >wS 3</text>
<text x="1519.5" y="445.5" font-family="Liberation Sans" font-size="10.5" fill="#9a48c8" textLength="64" lengthAdjust="spacingAndGlyphs" >Weekly Pivot 94.25</text>
<text x="1531" y="393.5" font-family="Liberation Serif" font-size="17.5" fill="#e02020" textLength="50.5" lengthAdjust="spacingAndGlyphs" >180:1</text>
<text x="731" y="118.5" font-family="Liberation Sans" font-size="21" fill="#d020d0" textLength="22" lengthAdjust="spacingAndGlyphs" >1?</text>
<text x="1001" y="118.5" font-family="Liberation Sans" font-size="21" fill="#d020d0" textLength="22" lengthAdjust="spacingAndGlyphs" >2?</text>
<text x="1401" y="118.5" font-family="Liberation Sans" font-size="21" fill="#d020d0" textLength="22" lengthAdjust="spacingAndGlyphs" >3?</text>
<path d="M15.6,88.6 L23.2,88.6 L19.4,93.2 Z" fill="#000"/>
<text x="28.3" y="93.6" font-family="Liberation Sans" font-size="11" fill="#222" textLength="48" lengthAdjust="spacingAndGlyphs" >USDX,Daily</text>
<text x="83.8" y="93.6" font-family="Liberation Sans" font-size="11" fill="#000" textLength="101.2" lengthAdjust="spacingAndGlyphs" >95.21 95.69 95.10 95.46</text>
<text x="23.3" y="116.7" font-family="Liberation Sans" font-size="9" fill="#2030c0" textLength="13" lengthAdjust="spacingAndGlyphs" font-weight="bold" >MN</text>
<text x="43.3" y="116.7" font-family="Liberation Sans" font-size="9" fill="#2030c0" textLength="13" lengthAdjust="spacingAndGlyphs" font-weight="bold" >W1</text>
<text x="63.7" y="116.7" font-family="Liberation Sans" font-size="9" fill="#2030c0" textLength="10.5" lengthAdjust="spacingAndGlyphs" font-weight="bold" >D1</text>
<text x="83.7" y="116.7" font-family="Liberation Sans" font-size="9" fill="#2030c0" textLength="11" lengthAdjust="spacingAndGlyphs" font-weight="bold" >H4</text>
<text x="103.7" y="116.7" font-family="Liberation Sans" font-size="9" fill="#2030c0" textLength="10.5" lengthAdjust="spacingAndGlyphs" font-weight="bold" >H1</text>
<text x="123.7" y="116.7" font-family="Liberation Sans" font-size="11.5" fill="#1a1a9a" textLength="33.5" lengthAdjust="spacingAndGlyphs" >Signals</text>
<rect x="24.6" y="121.3" width="16.4" height="4.6" fill="#22e022" rx="1"/>
<rect x="44.6" y="121.3" width="16.4" height="4.6" fill="#f06a48" rx="1"/>
<rect x="64.6" y="121.3" width="16.4" height="4.6" fill="#0a6a0a" rx="1"/>
<rect x="84.6" y="121.3" width="16.4" height="4.6" fill="#f06a50" rx="1"/>
<rect x="104.6" y="121.3" width="16.4" height="4.6" fill="#ec7048" rx="1"/>
<rect x="24.6" y="129.2" width="16.4" height="4.6" fill="#22e022" rx="1"/>
<rect x="44.6" y="129.2" width="16.4" height="4.6" fill="#ffa020" rx="1"/>
<rect x="64.6" y="129.2" width="16.4" height="4.6" fill="#22e022" rx="1"/>
<rect x="84.6" y="129.2" width="16.4" height="4.6" fill="#22e022" rx="1"/>
<rect x="104.6" y="129.2" width="16.4" height="4.6" fill="#22e022" rx="1"/>
<rect x="24.6" y="137" width="16.4" height="4.6" fill="#22e022" rx="1"/>
<rect x="44.6" y="137" width="16.4" height="4.6" fill="#f01010" rx="1"/>
<rect x="64.6" y="137" width="16.4" height="4.6" fill="#22e022" rx="1"/>
<rect x="84.6" y="137" width="16.4" height="4.6" fill="#22e022" rx="1"/>
<rect x="104.6" y="137" width="16.4" height="4.6" fill="#22e022" rx="1"/>
<text x="123.7" y="125.5" font-family="Liberation Sans" font-size="7.6" fill="#1a1a9a" textLength="25.5" lengthAdjust="spacingAndGlyphs" font-weight="bold" >MACD</text>
<text x="123.7" y="133.8" font-family="Liberation Sans" font-size="7.6" fill="#1a1a9a" textLength="15.5" lengthAdjust="spacingAndGlyphs" font-weight="bold" >STR</text>
<text x="123.7" y="141.7" font-family="Liberation Sans" font-size="7.6" fill="#1a1a9a" textLength="18" lengthAdjust="spacingAndGlyphs" font-weight="bold" >EMA</text>
<text x="23.3" y="161.7" font-family="Liberation Sans" font-size="20" fill="#eaa83a" textLength="48.7" lengthAdjust="spacingAndGlyphs" >95.46</text>
<text x="23.3" y="174.6" font-family="Liberation Sans" font-size="12" fill="#e8a040" textLength="57.5" lengthAdjust="spacingAndGlyphs" >4.00e-005</text>
<text x="53.3" y="174.6" font-family="Liberation Sans" font-size="12" fill="#1e1ea4" textLength="39.7" lengthAdjust="spacingAndGlyphs" >Spread</text>
<text x="23.7" y="189.5" font-family="Liberation Sans" font-size="11.5" fill="#38c838" textLength="13.3" lengthAdjust="spacingAndGlyphs" >25</text>
<text x="53.3" y="189.5" font-family="Liberation Sans" font-size="11.5" fill="#1e1ea4" textLength="69.7" lengthAdjust="spacingAndGlyphs" >Pips to Open</text>
<text x="23.7" y="204.5" font-family="Liberation Sans" font-size="11.5" fill="#38c838" textLength="13.3" lengthAdjust="spacingAndGlyphs" >59</text>
<text x="53.3" y="204.5" font-family="Liberation Sans" font-size="11.5" fill="#1e1ea4" textLength="80.9" lengthAdjust="spacingAndGlyphs" >Today's Range</text>
<text x="23.7" y="219.5" font-family="Liberation Sans" font-size="11.5" fill="#38c838" textLength="13.3" lengthAdjust="spacingAndGlyphs" >43</text>
<text x="63.5" y="219.5" font-family="Liberation Sans" font-size="11.5" fill="#1e1ea4" textLength="93.5" lengthAdjust="spacingAndGlyphs" >Prev Days Range</text>
<text x="23.7" y="234.5" font-family="Liberation Sans" font-size="11.5" fill="#38c838" textLength="13.3" lengthAdjust="spacingAndGlyphs" >62</text>
<text x="63.5" y="234.5" font-family="Liberation Sans" font-size="11.5" fill="#1e1ea4" textLength="79.4" lengthAdjust="spacingAndGlyphs" >Prev 5 Days Av</text>
<text x="23.7" y="249.5" font-family="Liberation Sans" font-size="11.5" fill="#38c838" textLength="13.3" lengthAdjust="spacingAndGlyphs" >68</text>
<text x="63.5" y="249.5" font-family="Liberation Sans" font-size="11.5" fill="#1e1ea4" textLength="79.4" lengthAdjust="spacingAndGlyphs" >Prev 10 Day Av</text>
<text x="23.7" y="264.5" font-family="Liberation Sans" font-size="11.5" fill="#38c838" textLength="13.3" lengthAdjust="spacingAndGlyphs" >79</text>
<text x="63.5" y="264.5" font-family="Liberation Sans" font-size="11.5" fill="#1e1ea4" textLength="79.4" lengthAdjust="spacingAndGlyphs" >Prev 30 Day Av</text>
<text x="18.3" y="816.7" font-family="Liberation Sans" font-size="10" fill="#8c8c8c" textLength="142.7" lengthAdjust="spacingAndGlyphs" >Weekly Pivots | © CompassFX</text>
<g clip-path="url(#ca)">
<line x1="1869.5" y1="827.5" x2="1869.5" y2="987" stroke="#f5f5f5" stroke-width="1" stroke-dasharray="1 3" />
<line x1="1837.5" y1="827.5" x2="1837.5" y2="987" stroke="#f5f5f5" stroke-width="1" stroke-dasharray="1 3" />
<line x1="1805.5" y1="827.5" x2="1805.5" y2="987" stroke="#f5f5f5" stroke-width="1" stroke-dasharray="1 3" />
<line x1="1773.5" y1="827.5" x2="1773.5" y2="987" stroke="#f5f5f5" stroke-width="1" stroke-dasharray="1 3" />
<line x1="1741.5" y1="827.5" x2="1741.5" y2="987" stroke="#f5f5f5" stroke-width="1" stroke-dasharray="1 3" />
<line x1="1709.5" y1="827.5" x2="1709.5" y2="987" stroke="#f5f5f5" stroke-width="1" stroke-dasharray="1 3" />
<line x1="1677.5" y1="827.5" x2="1677.5" y2="987" stroke="#f5f5f5" stroke-width="1" stroke-dasharray="1 3" />
<line x1="1645.5" y1="827.5" x2="1645.5" y2="987" stroke="#f5f5f5" stroke-width="1" stroke-dasharray="1 3" />
<line x1="1613.5" y1="827.5" x2="1613.5" y2="987" stroke="#f5f5f5" stroke-width="1" stroke-dasharray="1 3" />
<line x1="1581.5" y1="827.5" x2="1581.5" y2="987" stroke="#f5f5f5" stroke-width="1" stroke-dasharray="1 3" />
<line x1="1549.5" y1="827.5" x2="1549.5" y2="987" stroke="#f5f5f5" stroke-width="1" stroke-dasharray="1 3" />
<line x1="1517.5" y1="827.5" x2="1517.5" y2="987" stroke="#f5f5f5" stroke-width="1" stroke-dasharray="1 3" />
<line x1="1485.5" y1="827.5" x2="1485.5" y2="987" stroke="#f5f5f5" stroke-width="1" stroke-dasharray="1 3" />
<line x1="1453.5" y1="827.5" x2="1453.5" y2="987" stroke="#f5f5f5" stroke-width="1" stroke-dasharray="1 3" />
<line x1="1421.5" y1="827.5" x2="1421.5" y2="987" stroke="#f5f5f5" stroke-width="1" stroke-dasharray="1 3" />
<line x1="1389.5" y1="827.5" x2="1389.5" y2="987" stroke="#f5f5f5" stroke-width="1" stroke-dasharray="1 3" />
<line x1="1357.5" y1="827.5" x2="1357.5" y2="987" stroke="#f5f5f5" stroke-width="1" stroke-dasharray="1 3" />
<line x1="1325.5" y1="827.5" x2="1325.5" y2="987" stroke="#f5f5f5" stroke-width="1" stroke-dasharray="1 3" />
<line x1="1293.5" y1="827.5" x2="1293.5" y2="987" stroke="#f5f5f5" stroke-width="1" stroke-dasharray="1 3" />
<line x1="1261.5" y1="827.5" x2="1261.5" y2="987" stroke="#f5f5f5" stroke-width="1" stroke-dasharray="1 3" />
<line x1="1229.5" y1="827.5" x2="1229.5" y2="987" stroke="#f5f5f5" stroke-width="1" stroke-dasharray="1 3" />
<line x1="1197.5" y1="827.5" x2="1197.5" y2="987" stroke="#f5f5f5" stroke-width="1" stroke-dasharray="1 3" />
<line x1="1165.5" y1="827.5" x2="1165.5" y2="987" stroke="#f5f5f5" stroke-width="1" stroke-dasharray="1 3" />
<line x1="1133.5" y1="827.5" x2="1133.5" y2="987" stroke="#f5f5f5" stroke-width="1" stroke-dasharray="1 3" />
<line x1="1101.5" y1="827.5" x2="1101.5" y2="987" stroke="#f5f5f5" stroke-width="1" stroke-dasharray="1 3" />
<line x1="1069.5" y1="827.5" x2="1069.5" y2="987" stroke="#f5f5f5" stroke-width="1" stroke-dasharray="1 3" />
<line x1="1037.5" y1="827.5" x2="1037.5" y2="987" stroke="#f5f5f5" stroke-width="1" stroke-dasharray="1 3" />
<line x1="1005.5" y1="827.5" x2="1005.5" y2="987" stroke="#f5f5f5" stroke-width="1" stroke-dasharray="1 3" />
<line x1="973.5" y1="827.5" x2="973.5" y2="987" stroke="#f5f5f5" stroke-width="1" stroke-dasharray="1 3" />
<line x1="941.5" y1="827.5" x2="941.5" y2="987" stroke="#f5f5f5" stroke-width="1" stroke-dasharray="1 3" />
<line x1="909.5" y1="827.5" x2="909.5" y2="987" stroke="#f5f5f5" stroke-width="1" stroke-dasharray="1 3" />
<line x1="877.5" y1="827.5" x2="877.5" y2="987" stroke="#f5f5f5" stroke-width="1" stroke-dasharray="1 3" />
<line x1="845.5" y1="827.5" x2="845.5" y2="987" stroke="#f5f5f5" stroke-width="1" stroke-dasharray="1 3" />
<line x1="813.5" y1="827.5" x2="813.5" y2="987" stroke="#f5f5f5" stroke-width="1" stroke-dasharray="1 3" />
<line x1="781.5" y1="827.5" x2="781.5" y2="987" stroke="#f5f5f5" stroke-width="1" stroke-dasharray="1 3" />
<line x1="749.5" y1="827.5" x2="749.5" y2="987" stroke="#f5f5f5" stroke-width="1" stroke-dasharray="1 3" />
<line x1="717.5" y1="827.5" x2="717.5" y2="987" stroke="#f5f5f5" stroke-width="1" stroke-dasharray="1 3" />
<line x1="685.5" y1="827.5" x2="685.5" y2="987" stroke="#f5f5f5" stroke-width="1" stroke-dasharray="1 3" />
<line x1="653.5" y1="827.5" x2="653.5" y2="987" stroke="#f5f5f5" stroke-width="1" stroke-dasharray="1 3" />
<line x1="621.5" y1="827.5" x2="621.5" y2="987" stroke="#f5f5f5" stroke-width="1" stroke-dasharray="1 3" />
<line x1="589.5" y1="827.5" x2="589.5" y2="987" stroke="#f5f5f5" stroke-width="1" stroke-dasharray="1 3" />
<line x1="557.5" y1="827.5" x2="557.5" y2="987" stroke="#f5f5f5" stroke-width="1" stroke-dasharray="1 3" />
<line x1="525.5" y1="827.5" x2="525.5" y2="987" stroke="#f5f5f5" stroke-width="1" stroke-dasharray="1 3" />
<line x1="493.5" y1="827.5" x2="493.5" y2="987" stroke="#f5f5f5" stroke-width="1" stroke-dasharray="1 3" />
<line x1="461.5" y1="827.5" x2="461.5" y2="987" stroke="#f5f5f5" stroke-width="1" stroke-dasharray="1 3" />
<line x1="429.5" y1="827.5" x2="429.5" y2="987" stroke="#f5f5f5" stroke-width="1" stroke-dasharray="1 3" />
<line x1="397.5" y1="827.5" x2="397.5" y2="987" stroke="#f5f5f5" stroke-width="1" stroke-dasharray="1 3" />
<line x1="365.5" y1="827.5" x2="365.5" y2="987" stroke="#f5f5f5" stroke-width="1" stroke-dasharray="1 3" />
<line x1="333.5" y1="827.5" x2="333.5" y2="987" stroke="#f5f5f5" stroke-width="1" stroke-dasharray="1 3" />
<line x1="301.5" y1="827.5" x2="301.5" y2="987" stroke="#f5f5f5" stroke-width="1" stroke-dasharray="1 3" />
<line x1="269.5" y1="827.5" x2="269.5" y2="987" stroke="#f5f5f5" stroke-width="1" stroke-dasharray="1 3" />
<line x1="237.5" y1="827.5" x2="237.5" y2="987" stroke="#f5f5f5" stroke-width="1" stroke-dasharray="1 3" />
<line x1="205.5" y1="827.5" x2="205.5" y2="987" stroke="#f5f5f5" stroke-width="1" stroke-dasharray="1 3" />
<line x1="173.5" y1="827.5" x2="173.5" y2="987" stroke="#f5f5f5" stroke-width="1" stroke-dasharray="1 3" />
<line x1="141.5" y1="827.5" x2="141.5" y2="987" stroke="#f5f5f5" stroke-width="1" stroke-dasharray="1 3" />
<line x1="109.5" y1="827.5" x2="109.5" y2="987" stroke="#f5f5f5" stroke-width="1" stroke-dasharray="1 3" />
<line x1="77.5" y1="827.5" x2="77.5" y2="987" stroke="#f5f5f5" stroke-width="1" stroke-dasharray="1 3" />
<line x1="45.5" y1="827.5" x2="45.5" y2="987" stroke="#f5f5f5" stroke-width="1" stroke-dasharray="1 3" />
<line x1="13.5" y1="827.5" x2="13.5" y2="987" stroke="#f5f5f5" stroke-width="1" stroke-dasharray="1 3" />
<line x1="12" y1="868.5" x2="1882" y2="868.5" stroke="#f5f5f5" stroke-width="1" stroke-dasharray="1 3" />
<line x1="12" y1="907.5" x2="1882" y2="907.5" stroke="#f5f5f5" stroke-width="1" stroke-dasharray="1 3" />
<line x1="12" y1="947.5" x2="1882" y2="947.5" stroke="#f5f5f5" stroke-width="1" stroke-dasharray="1 3" />
<line x1="12" y1="928.3" x2="1882" y2="928.3" stroke="#a83838" stroke-width="1.2" />
<polyline points="13.5,928.1 21.5,920.2 29.5,928.1 37.5,937.5 45.5,928.9 53.5,918.6 61.5,915.5 69.5,923.4 77.5,933.6 85.5,940.7 93.5,947.8 101.5,921.8 109.5,925.7 117.5,933.6 125.5,928.1 133.5,905.3 141.5,917.1 149.5,911.6 157.5,921.0 165.5,932.0 173.5,938.3 181.5,944.6 189.5,949.9 197.5,955.1 205.5,960.3 213.5,932.0 221.5,939.1 229.5,925.7 237.5,912.7 245.5,899.8 253.5,914.7 261.5,919.8 269.5,904.5 277.5,914.7 285.5,924.9 293.5,917.9 301.5,921.8 309.5,931.2 317.5,899.0 325.5,910.0 333.5,921.0 341.5,906.8 349.5,897.4 357.5,909.2 365.5,920.2 373.5,902.1 381.5,906.1 389.5,917.9 397.5,914.7 405.5,912.3 413.5,921.0 421.5,930.4 429.5,911.6 437.5,921.8 445.5,902.1 453.5,884.8 461.5,894.2 469.5,905.3 477.5,916.3 485.5,925.7 493.5,917.9 501.5,925.7 509.5,936.0 517.5,940.7 525.5,947.8 533.5,952.5 541.5,959.6 549.5,956.4 557.5,950.1 565.5,954.8 573.5,959.6 581.5,942.2 589.5,946.2 597.5,950.9 605.5,958.8 613.5,940.7 621.5,944.6 629.5,950.1 637.5,956.4 645.5,942.2 653.5,947.0 661.5,917.1 669.5,920.2 677.5,929.7 685.5,910.8 693.5,920.2 701.5,906.1 709.5,917.9 717.5,922.6 725.5,906.8 733.5,888.7 741.5,868.3 749.5,860.4 757.5,877.7 765.5,856.5 773.5,841.5 781.5,858.1 789.5,863.6 797.5,878.5 805.5,891.1 813.5,903.7 821.5,916.3 829.5,924.9 837.5,933.6 845.5,943.0 853.5,949.3 861.5,954.8 869.5,959.6 877.5,964.3 885.5,950.9 893.5,957.2 901.5,922.6 909.5,900.5 917.5,910.8 925.5,921.8 933.5,930.4 941.5,940.7 949.5,923.4 957.5,904.5 965.5,906.8 973.5,884.0 981.5,873.0 989.5,886.4 997.5,870.6 1005.5,884.8 1013.5,899.0 1021.5,911.6 1029.5,919.4 1037.5,930.4 1045.5,910.8 1053.5,902.1 1061.5,913.1 1069.5,915.5 1077.5,924.2 1085.5,932.8 1093.5,940.7 1101.5,947.0 1109.5,953.3 1117.5,957.2 1125.5,961.1 1133.5,965.9 1141.5,947.8 1149.5,941.5 1157.5,947.8 1165.5,953.3 1173.5,944.6 1181.5,950.1 1189.5,922.6 1197.5,932.0 1205.5,939.9 1213.5,946.2 1221.5,939.1 1229.5,946.2 1237.5,913.1 1245.5,886.4 1253.5,875.4 1261.5,889.5 1269.5,885.6 1277.5,877.7 1285.5,876.9 1293.5,852.5 1301.5,851.8 1309.5,867.5 1317.5,883.2 1325.5,900.5 1333.5,880.9 1341.5,894.2 1349.5,906.8 1357.5,918.6 1365.5,900.5 1373.5,913.1 1381.5,924.2 1389.5,932.0 1397.5,939.1 1405.5,930.4 1413.5,935.2 1421.5,942.2 1429.5,949.3 1437.5,954.1 1445.5,958.8 1453.5,963.5 1461.5,948.5 1469.5,954.8 1477.5,937.5 1485.5,906.8 1493.5,916.3 1501.5,928.1 1509.5,924.9" fill="none" stroke="#3fae3f" stroke-width="1.1" stroke-linejoin="round" />
<polyline points="13.5,972.9 21.5,976.1 29.5,977.3 37.5,962.7 45.5,965.9 53.5,969.0 61.5,972.2 69.5,944.6 77.5,929.7 85.5,913.9 93.5,924.2 101.5,933.6 109.5,940.7 117.5,921.0 125.5,929.7 133.5,938.3 141.5,928.9 149.5,936.0 157.5,943.8 165.5,928.1 173.5,906.8 181.5,907.6 189.5,916.3 197.5,924.2 205.5,933.6 213.5,941.5 221.5,923.4 229.5,929.7 237.5,937.5 245.5,943.6 253.5,949.7 261.5,937.5 269.5,942.2 277.5,950.1 285.5,954.4 293.5,958.8 301.5,963.5 309.5,967.0 317.5,970.6 325.5,972.2 333.5,968.2 341.5,971.4 349.5,974.5 357.5,972.9 365.5,940.7 373.5,946.2 381.5,952.5 389.5,947.8 397.5,953.3 405.5,958.0 413.5,961.9 421.5,936.7 429.5,943.0 437.5,932.0 445.5,938.3 453.5,944.6 461.5,951.7 469.5,932.0 477.5,915.5 485.5,924.9 493.5,933.6 501.5,941.5 509.5,947.4 517.5,932.4 525.5,908.4 533.5,917.9 541.5,921.0 549.5,929.7 557.5,938.3 565.5,924.9 573.5,933.6 581.5,940.7 589.5,920.2 597.5,921.0 605.5,929.7 613.5,938.3 621.5,938.3 629.5,945.4 637.5,942.2 645.5,948.5 653.5,954.1 661.5,958.0 669.5,961.9 677.5,932.0 685.5,938.3 693.5,944.6 701.5,951.7 709.5,936.7 717.5,942.2 725.5,949.3 733.5,954.1 741.5,958.8 749.5,963.5 757.5,941.5 765.5,946.6 773.5,953.3 781.5,958.0 789.5,961.9 797.5,965.9 805.5,934.4 813.5,935.2 821.5,908.4 829.5,917.9 837.5,927.3 845.5,936.0 853.5,925.7 861.5,915.5 869.5,924.9 877.5,923.4 885.5,932.0 893.5,940.7 901.5,947.0 909.5,952.5 917.5,956.4 925.5,935.2 933.5,909.2 941.5,918.6 949.5,927.3 957.5,935.2 965.5,943.0 973.5,949.3 981.5,954.1 989.5,958.8 997.5,964.3 1005.5,941.5 1013.5,941.5 1021.5,922.2 1029.5,917.1 1037.5,925.7 1045.5,935.2 1053.5,942.2 1061.5,937.5 1069.5,944.6 1077.5,928.1 1085.5,937.5 1093.5,924.9 1101.5,913.9 1109.5,887.2 1117.5,890.3 1125.5,902.9 1133.5,914.7 1141.5,924.9 1149.5,933.6 1157.5,910.8 1165.5,920.2 1173.5,928.1 1181.5,936.0 1189.5,945.4 1197.5,924.9 1205.5,906.8 1213.5,896.6 1221.5,906.8 1229.5,916.3 1237.5,928.1 1245.5,936.0 1253.5,943.8 1261.5,932.8 1269.5,940.7 1277.5,946.2 1285.5,952.5 1293.5,957.2 1301.5,961.9 1309.5,961.9 1317.5,958.0 1325.5,962.7 1333.5,965.9 1341.5,941.5 1349.5,930.4 1357.5,921.0 1365.5,929.7 1373.5,938.3 1381.5,910.0 1389.5,910.0 1397.5,894.2 1405.5,906.8 1413.5,916.3 1421.5,928.1 1429.5,913.1 1437.5,911.6 1445.5,906.8 1453.5,885.6 1461.5,897.4 1469.5,910.8 1477.5,920.2 1485.5,930.4 1493.5,939.9 1501.5,946.2 1509.5,950.9" fill="none" stroke="#d02038" stroke-width="1.1" stroke-linejoin="round" />
<polyline points="13.5,855.7 21.5,846.6 29.5,837.6 37.5,845.5 45.5,846.2 53.5,842.3 61.5,838.4 69.5,853.3 77.5,869.1 85.5,875.0 93.5,880.9 101.5,891.1 109.5,902.1 117.5,906.8 125.5,918.6 133.5,918.6 141.5,924.2 149.5,924.5 157.5,924.9 165.5,932.8 173.5,928.9 181.5,924.9 189.5,921.0 197.5,917.1 205.5,913.1 213.5,920.2 221.5,922.6 229.5,930.4 237.5,928.9 245.5,923.4 253.5,917.9 261.5,921.6 269.5,919.0 277.5,916.3 285.5,914.4 293.5,908.4 301.5,899.0 309.5,894.2 317.5,880.1 325.5,867.5 333.5,861.2 341.5,851.8 349.5,842.3 357.5,834.4 365.5,848.6 373.5,853.3 381.5,856.5 389.5,862.8 397.5,864.0 405.5,865.1 413.5,864.3 421.5,878.5 429.5,883.2 437.5,894.2 445.5,895.8 453.5,891.1 461.5,887.2 469.5,891.9 477.5,902.1 485.5,913.9 493.5,919.4 501.5,924.2 509.5,927.7 517.5,929.7 525.5,924.2 533.5,919.4 541.5,914.7 549.5,912.3 557.5,917.1 565.5,914.4 573.5,912.3 581.5,921.8 589.5,919.4 597.5,916.3 605.5,913.6 613.5,923.4 621.5,928.1 629.5,933.3 637.5,933.6 645.5,937.5 653.5,941.8 661.5,930.4 669.5,921.0 677.5,929.7 685.5,928.1 693.5,927.6 701.5,920.2 709.5,923.4 717.5,924.2 725.5,919.4 733.5,908.4 741.5,894.2 749.5,878.5 757.5,877.7 765.5,871.0 773.5,862.0 781.5,854.1 789.5,845.5 797.5,837.6 805.5,848.6 813.5,858.8 821.5,872.2 829.5,885.6 837.5,895.8 845.5,906.1 853.5,907.2 861.5,903.7 869.5,899.8 877.5,893.5 885.5,897.4 893.5,900.5 901.5,904.5 909.5,899.8 917.5,894.2 925.5,902.9 933.5,907.6 941.5,911.6 949.5,920.2 957.5,920.2 965.5,917.9 973.5,910.8 981.5,899.8 989.5,888.7 997.5,873.8 1005.5,874.6 1013.5,876.9 1021.5,886.4 1029.5,899.0 1037.5,910.8 1045.5,913.9 1053.5,912.3 1061.5,914.7 1069.5,915.0 1077.5,922.6 1085.5,928.9 1093.5,932.0 1101.5,928.1 1109.5,917.9 1117.5,907.6 1125.5,897.4 1133.5,886.4 1141.5,891.1 1149.5,901.3 1157.5,900.2 1165.5,899.8 1173.5,905.3 1181.5,910.0 1189.5,913.1 1197.5,922.6 1205.5,919.4 1213.5,915.5 1221.5,915.5 1229.5,915.5 1237.5,920.2 1245.5,916.3 1253.5,908.4 1261.5,908.4 1269.5,906.1 1277.5,897.0 1285.5,889.5 1293.5,877.7 1301.5,866.7 1309.5,855.7 1317.5,851.8 1325.5,848.6 1333.5,841.5 1341.5,847.0 1349.5,859.6 1357.5,876.9 1365.5,883.2 1373.5,889.5 1381.5,898.2 1389.5,903.7 1397.5,902.9 1405.5,908.4 1413.5,913.9 1421.5,918.6 1429.5,913.9 1437.5,910.8 1445.5,902.1 1453.5,888.7 1461.5,887.2 1469.5,885.6 1477.5,894.2 1485.5,899.8 1493.5,904.5 1501.5,909.2 1509.5,909.2" fill="none" stroke="#000000" stroke-width="1.1" stroke-linejoin="round" />
</g>
<text x="17.8" y="839.6" font-family="Liberation Sans" font-size="9.5" fill="#000" textLength="179" lengthAdjust="spacingAndGlyphs" >ADX(14) 25.9311 +DI:20.8788 -DI:12.4251</text>
<text x="1887.5" y="837.8" font-family="Liberation Sans" font-size="10.4" fill="#000" textLength="10.41" lengthAdjust="spacingAndGlyphs" stroke="#000" stroke-width="0.25">52</text>
<text x="1887.5" y="880.3" font-family="Liberation Sans" font-size="10.4" fill="#000" textLength="10.41" lengthAdjust="spacingAndGlyphs" stroke="#000" stroke-width="0.25">39</text>
<text x="1887.5" y="919.3" font-family="Liberation Sans" font-size="10.4" fill="#000" textLength="10.41" lengthAdjust="spacingAndGlyphs" stroke="#000" stroke-width="0.25">26</text>
<text x="1887.5" y="958.8" font-family="Liberation Sans" font-size="10.4" fill="#000" textLength="10.41" lengthAdjust="spacingAndGlyphs" stroke="#000" stroke-width="0.25">13</text>
<text x="1887.5" y="984.8" font-family="Liberation Sans" font-size="10.4" fill="#000" textLength="5.2" lengthAdjust="spacingAndGlyphs" stroke="#000" stroke-width="0.25">1</text>
<line x1="1882" y1="868.5" x2="1886" y2="868.5" stroke="#000" stroke-width="1" />
<line x1="1882" y1="907.5" x2="1886" y2="907.5" stroke="#000" stroke-width="1" />
<line x1="1882" y1="947.5" x2="1886" y2="947.5" stroke="#000" stroke-width="1" />
<rect x="1884" y="922.5" width="36" height="11" fill="#c02828" />
<text x="1888" y="931.8" font-family="Liberation Sans" font-size="10.4" fill="#fff" textLength="33.83" lengthAdjust="spacingAndGlyphs" stroke="#fff" stroke-width="0.25">20.0000</text>
<rect x="13" y="987" width="1" height="4" fill="#000" />
<text x="12" y="999.5" font-family="Liberation Sans" font-size="9.6" fill="#000" stroke="#000" stroke-width="0.25">16 Nov 2014</text>
<rect x="77" y="987" width="1" height="4" fill="#000" />
<text x="76" y="999.5" font-family="Liberation Sans" font-size="9.6" fill="#000" stroke="#000" stroke-width="0.25">25 Nov 2014</text>
<rect x="141" y="987" width="1" height="4" fill="#000" />
<text x="140" y="999.5" font-family="Liberation Sans" font-size="9.6" fill="#000" stroke="#000" stroke-width="0.25">4 Dec 2014</text>
<rect x="205" y="987" width="1" height="4" fill="#000" />
<text x="204" y="999.5" font-family="Liberation Sans" font-size="9.6" fill="#000" stroke="#000" stroke-width="0.25">14 Dec 2014</text>
<rect x="269" y="987" width="1" height="4" fill="#000" />
<text x="268" y="999.5" font-family="Liberation Sans" font-size="9.6" fill="#000" stroke="#000" stroke-width="0.25">23 Dec 2014</text>
<rect x="333" y="987" width="1" height="4" fill="#000" />
<text x="332" y="999.5" font-family="Liberation Sans" font-size="9.6" fill="#000" stroke="#000" stroke-width="0.25">6 Jan 2015</text>
<rect x="397" y="987" width="1" height="4" fill="#000" />
<text x="396" y="999.5" font-family="Liberation Sans" font-size="9.6" fill="#000" stroke="#000" stroke-width="0.25">15 Jan 2015</text>
<rect x="461" y="987" width="1" height="4" fill="#000" />
<text x="460" y="999.5" font-family="Liberation Sans" font-size="9.6" fill="#000" stroke="#000" stroke-width="0.25">25 Jan 2015</text>
<rect x="525" y="987" width="1" height="4" fill="#000" />
<text x="524" y="999.5" font-family="Liberation Sans" font-size="9.6" fill="#000" stroke="#000" stroke-width="0.25">3 Feb 2015</text>
<rect x="589" y="987" width="1" height="4" fill="#000" />
<text x="588" y="999.5" font-family="Liberation Sans" font-size="9.6" fill="#000" stroke="#000" stroke-width="0.25">12 Feb 2015</text>
<rect x="653" y="987" width="1" height="4" fill="#000" />
<text x="652" y="999.5" font-family="Liberation Sans" font-size="9.6" fill="#000" stroke="#000" stroke-width="0.25">22 Feb 2015</text>
<rect x="717" y="987" width="1" height="4" fill="#000" />
<text x="716" y="999.5" font-family="Liberation Sans" font-size="9.6" fill="#000" stroke="#000" stroke-width="0.25">3 Mar 2015</text>
<rect x="781" y="987" width="1" height="4" fill="#000" />
<text x="780" y="999.5" font-family="Liberation Sans" font-size="9.6" fill="#000" stroke="#000" stroke-width="0.25">12 Mar 2015</text>
<rect x="845" y="987" width="1" height="4" fill="#000" />
<text x="844" y="999.5" font-family="Liberation Sans" font-size="9.6" fill="#000" stroke="#000" stroke-width="0.25">22 Mar 2015</text>
<rect x="909" y="987" width="1" height="4" fill="#000" />
<text x="908" y="999.5" font-family="Liberation Sans" font-size="9.6" fill="#000" stroke="#000" stroke-width="0.25">31 Mar 2015</text>
<rect x="973" y="987" width="1" height="4" fill="#000" />
<text x="972" y="999.5" font-family="Liberation Sans" font-size="9.6" fill="#000" stroke="#000" stroke-width="0.25">9 Apr 2015</text>
<rect x="1037" y="987" width="1" height="4" fill="#000" />
<text x="1036" y="999.5" font-family="Liberation Sans" font-size="9.6" fill="#000" stroke="#000" stroke-width="0.25">19 Apr 2015</text>
<rect x="1101" y="987" width="1" height="4" fill="#000" />
<text x="1100" y="999.5" font-family="Liberation Sans" font-size="9.6" fill="#000" stroke="#000" stroke-width="0.25">28 Apr 2015</text>
<rect x="1165" y="987" width="1" height="4" fill="#000" />
<text x="1164" y="999.5" font-family="Liberation Sans" font-size="9.6" fill="#000" stroke="#000" stroke-width="0.25">7 May 2015</text>
<rect x="1229" y="987" width="1" height="4" fill="#000" />
<text x="1228" y="999.5" font-family="Liberation Sans" font-size="9.6" fill="#000" stroke="#000" stroke-width="0.25">17 May 2015</text>
<rect x="1293" y="987" width="1" height="4" fill="#000" />
<text x="1292" y="999.5" font-family="Liberation Sans" font-size="9.6" fill="#000" stroke="#000" stroke-width="0.25">26 May 2015</text>
<rect x="1357" y="987" width="1" height="4" fill="#000" />
<text x="1356" y="999.5" font-family="Liberation Sans" font-size="9.6" fill="#000" stroke="#000" stroke-width="0.25">4 Jun 2015</text>
<rect x="1421" y="987" width="1" height="4" fill="#000" />
<text x="1420" y="999.5" font-family="Liberation Sans" font-size="9.6" fill="#000" stroke="#000" stroke-width="0.25">14 Jun 2015</text>
<rect x="1485" y="987" width="1" height="4" fill="#000" />
<text x="1484" y="999.5" font-family="Liberation Sans" font-size="9.6" fill="#000" stroke="#000" stroke-width="0.25">23 Jun 2015</text>
<g>
<rect x="11" y="9" width="12" height="10" fill="#e8d8b0" rx="1"/>
<circle cx="15" cy="17" r="3.2" fill="#9a8a30"/><rect x="16" y="8" width="9" height="8" fill="#dfe8f0" stroke="#7ea0c0" stroke-width="1"/>
<text x="784.5" y="20.5" font-family="Liberation Sans" font-size="15" fill="#2c2c2c" textLength="363.8" lengthAdjust="spacingAndGlyphs" >1199606: FOREX-Server - Demo Account - [USDX,Daily]</text>
<rect x="1836" y="12" width="9" height="2" fill="#1a1a1a" />
<rect x="1862.5" y="8.5" width="10" height="7" fill="none" stroke="#1a1a1a" stroke-width="1"/><rect x="1862" y="8" width="11" height="2" fill="#1a1a1a"/>
<rect x="1880" y="1" width="40" height="19.5" fill="#c7c7c7" />
<path d="M1898,7 L1907,15 M1907,7 L1898,15" stroke="#fff" stroke-width="1.6"/>
<rect x="13.5" y="33.5" width="10" height="8" fill="#eef3f8" stroke="#5a82aa"/><rect x="17.5" y="38.5" width="10" height="8" fill="#eef3f8" stroke="#5a82aa"/>
<path d="M19,44 l2,-3 l2,2 l2,-3" stroke="#5a82aa" fill="none"/>
<text x="36.3" y="45.5" font-family="Liberation Sans" font-size="12.5" fill="#868686" textLength="15" lengthAdjust="spacingAndGlyphs" >File</text>
<text x="70.5" y="45.5" font-family="Liberation Sans" font-size="12.5" fill="#868686" textLength="21.5" lengthAdjust="spacingAndGlyphs" >View</text>
<text x="111.3" y="45.5" font-family="Liberation Sans" font-size="12.5" fill="#868686" textLength="24.5" lengthAdjust="spacingAndGlyphs" >Insert</text>
<text x="154.5" y="45.5" font-family="Liberation Sans" font-size="12.5" fill="#868686" textLength="29.8" lengthAdjust="spacingAndGlyphs" >Charts</text>
<text x="203.8" y="45.5" font-family="Liberation Sans" font-size="12.5" fill="#868686" textLength="24.3" lengthAdjust="spacingAndGlyphs" >Tools</text>
<text x="247.5" y="45.5" font-family="Liberation Sans" font-size="12.5" fill="#868686" textLength="37.5" lengthAdjust="spacingAndGlyphs" >Window</text>
<text x="304.3" y="45.5" font-family="Liberation Sans" font-size="12.5" fill="#868686" textLength="20.8" lengthAdjust="spacingAndGlyphs" >Help</text>
<rect x="1867.5" y="32.5" width="17.0" height="17" fill="#e2e9f0" stroke="#8ea4bc" stroke-width="1" rx="1"/>
<rect x="1886.5" y="32.5" width="17.0" height="17" fill="#e2e9f0" stroke="#8ea4bc" stroke-width="1" rx="1"/>
<rect x="1905.5" y="32.5" width="15.5" height="17" fill="#e2e9f0" stroke="#8ea4bc" stroke-width="1" rx="1"/>
<rect x="1873" y="43" width="6" height="1.5" fill="#6a7488" />
<rect x="1892.5" y="39.5" width="5" height="4" fill="none" stroke="#6a7488"/><path d="M1894.5,37.5 h5 v4" fill="none" stroke="#6a7488"/>
<path d="M1910.5,37.5 L1916.5,43.5 M1916.5,37.5 L1910.5,43.5" stroke="#6a7488" stroke-width="1.3"/>
<rect x="10" y="56" width="3" height="1" fill="#a8a8a8" />
<rect x="10" y="58" width="3" height="1" fill="#a8a8a8" />
<rect x="10" y="60" width="3" height="1" fill="#a8a8a8" />
<rect x="10" y="62" width="3" height="1" fill="#a8a8a8" />
<rect x="10" y="64" width="3" height="1" fill="#a8a8a8" />
<rect x="10" y="66" width="3" height="1" fill="#a8a8a8" />
<rect x="10" y="68" width="3" height="1" fill="#a8a8a8" />
<rect x="10" y="70" width="3" height="1" fill="#a8a8a8" />
<rect x="10" y="72" width="3" height="1" fill="#a8a8a8" />
<rect x="10" y="74" width="3" height="1" fill="#a8a8a8" />
<rect x="19.5" y="59.5" width="13" height="10" fill="#eef4fa" stroke="#4a6f96" stroke-width="1"/>
<rect x="20" y="60" width="12" height="2" fill="#9cb8d8" />
<path d="M28.5,64.5 h3 v4.0 h4.0 v3 h-4.0 v4.0 h-3 v-4.0 h-4.0 v-3 h4.0 z" fill="#22c422" stroke="#137013" stroke-width="0.8"/>
<path d="M41.5,65 h5 l-2.5,3 z" fill="#000"/>
<rect x="56.5" y="59.5" width="12" height="9" fill="#eef4fa" stroke="#4a6f96" stroke-width="1"/>
<rect x="57" y="60" width="11" height="2" fill="#9cb8d8" />
<rect x="60.5" y="64.5" width="12" height="9" fill="#eef4fa" stroke="#4a6f96" stroke-width="1"/>
<rect x="61" y="65" width="11" height="2" fill="#9cb8d8" />
<path d="M78.5,65 h5 l-2.5,3 z" fill="#000"/>
<line x1="91.5" y1="55" x2="91.5" y2="76" stroke="#b8b8b8" stroke-width="1" />
<line x1="92.5" y1="55" x2="92.5" y2="76" stroke="#ffffff" stroke-width="1" />
<rect x="100.5" y="59.5" width="15" height="14" fill="#eef4fa" stroke="#4a6f96" stroke-width="1"/>
<rect x="101" y="60" width="14" height="2" fill="#9cb8d8" />
<path d="M104,66 l3,-4 l3,4 z" fill="#1e9a1e"/><path d="M107,67 l3,4 l3,-4 z" fill="#e04040"/>
<circle cx="136.5" cy="66" r="5" fill="none" stroke="#333" stroke-width="1.5"/><path d="M136.5,58 v16 M128.5,66 h16" stroke="#333" stroke-width="1.3"/>
<path d="M155,61 h6 l1,2 h8 v8 h-15 z" fill="#f2d46a" stroke="#c8a030" stroke-width="0.8"/><path d="M166,63 l2,4 l4.5,0.5 l-3.5,3 l1,4.5 l-4,-2.5 l-4,2.5 l1,-4.5 l-3.5,-3 l4.5,-0.5 z" fill="#f5e040" stroke="#b09010" stroke-width="0.7"/>
<rect x="184.5" y="59.5" width="15" height="14" fill="#eef4fa" stroke="#4a6f96" stroke-width="1"/>
<rect x="185" y="60" width="14" height="2" fill="#9cb8d8" />
<rect x="185" y="62" width="3" height="11" fill="#3a6ab0" />
<line x1="190" y1="64.5" x2="197" y2="64.5" stroke="#6a8ab0" stroke-width="1" />
<line x1="190" y1="67.5" x2="197" y2="67.5" stroke="#6a8ab0" stroke-width="1" />
<line x1="190" y1="70.5" x2="197" y2="70.5" stroke="#6a8ab0" stroke-width="1" />
<rect x="212.5" y="59.5" width="13" height="12" fill="#eef4fa" stroke="#4a6f96" stroke-width="1"/>
<rect x="213" y="60" width="12" height="2" fill="#9cb8d8" />
<circle cx="221" cy="68" r="4" fill="#dde8f4" stroke="#6a8aaa" stroke-width="1.2"/><path d="M224,71 l4,4" stroke="#c8a030" stroke-width="2"/>
<line x1="237.5" y1="55" x2="237.5" y2="76" stroke="#b8b8b8" stroke-width="1" />
<line x1="238.5" y1="55" x2="238.5" y2="76" stroke="#ffffff" stroke-width="1" />
<path d="M247.5,58.5 h8 l3,3 v12 h-11 z" fill="#fafafa" stroke="#555" stroke-width="1"/>
<path d="M256.5,64.5 h3 v4.0 h4.0 v3 h-4.0 v4.0 h-3 v-4.0 h-4.0 v-3 h4.0 z" fill="#22c422" stroke="#137013" stroke-width="0.8"/>
<text x="268.5" y="69.8" font-family="Liberation Sans" font-size="11.5" fill="#111" textLength="55.6" lengthAdjust="spacingAndGlyphs" >New Order</text>
<path d="M334,67 l7,-7 l9,6 l-6,7 z" fill="#e8b830" stroke="#8a6410" stroke-width="0.8"/>
<path d="M362,64 q2,-6 8,-5 q6,-1 8,5 v5 q-8,6 -16,0 z" fill="#f0d060"/><path d="M362,64 q3,-6 8,-5 q6,-1 8,4 q-8,3 -16,1z" fill="#58a8e0"/><circle cx="374" cy="71" r="3.6" fill="#d02010"/><rect x="372.6" y="69.6" width="2.8" height="2.8" fill="#fff"/>
<text x="384" y="69.8" font-family="Liberation Sans" font-size="11.5" fill="#111" textLength="63.3" lengthAdjust="spacingAndGlyphs" >AutoTrading</text>
<line x1="456.5" y1="54" x2="456.5" y2="77" stroke="#a8a8a8" stroke-width="1" />
<rect x="460" y="56" width="3" height="1" fill="#a8a8a8" />
<rect x="460" y="58" width="3" height="1" fill="#a8a8a8" />
<rect x="460" y="60" width="3" height="1" fill="#a8a8a8" />
<rect x="460" y="62" width="3" height="1" fill="#a8a8a8" />
<rect x="460" y="64" width="3" height="1" fill="#a8a8a8" />
<rect x="460" y="66" width="3" height="1" fill="#a8a8a8" />
<rect x="460" y="68" width="3" height="1" fill="#a8a8a8" />
<rect x="460" y="70" width="3" height="1" fill="#a8a8a8" />
<rect x="460" y="72" width="3" height="1" fill="#a8a8a8" />
<rect x="460" y="74" width="3" height="1" fill="#a8a8a8" />
<path d="M474.5,60.5 v13.5 M472.5,71.5 h13.5" stroke="#3a3a3a" stroke-width="1.1" fill="none"/>
<path d="M472.7,62.0 l1.8,-2.3 l1.8,2.3 z M484.5,69.7 l2.3,1.8 l-2.3,1.8 z" fill="#3a3a3a"/>
<path d="M480.6,61.3 v7.5 M480.6,62.5 h2.5 M480.6,68.3 h-2.2" stroke="#1a6a1a" stroke-width="1.2" fill="none"/>
<rect x="494" y="54" width="25" height="23" fill="#f6f8f6" />
<line x1="494" y1="54.5" x2="519" y2="54.5" stroke="#8e8e8e" stroke-width="1" />
<line x1="494.5" y1="54" x2="494.5" y2="77" stroke="#8e8e8e" stroke-width="1" />
<line x1="495" y1="76.5" x2="519" y2="76.5" stroke="#fafafa" stroke-width="1" />
<line x1="518.5" y1="55" x2="518.5" y2="77" stroke="#fafafa" stroke-width="1" />
<path d="M502.5,60.5 v13.5 M500.5,71.5 h13.5" stroke="#3a3a3a" stroke-width="1.1" fill="none"/>
<path d="M500.7,62.0 l1.8,-2.3 l1.8,2.3 z M512.5,69.7 l2.3,1.8 l-2.3,1.8 z" fill="#3a3a3a"/>
<line x1="508.5" y1="58.2" x2="508.5" y2="69.8" stroke="#107010" stroke-width="1" />
<rect x="506.5" y="60.5" width="4" height="7" fill="#4ed04e" stroke="#107010" stroke-width="1"/>
<path d="M530.5,60.5 v13.5 M528.5,71.5 h13.5" stroke="#3a3a3a" stroke-width="1.1" fill="none"/>
<path d="M528.7,62.0 l1.8,-2.3 l1.8,2.3 z M540.5,69.7 l2.3,1.8 l-2.3,1.8 z" fill="#3a3a3a"/>
<path d="M531,68 q2,-4 4.5,-5 q2,0 5,4" stroke="#2a7a2a" stroke-width="1.2" fill="none"/>
<line x1="551.5" y1="55" x2="551.5" y2="76" stroke="#b8b8b8" stroke-width="1" />
<line x1="552.5" y1="55" x2="552.5" y2="76" stroke="#ffffff" stroke-width="1" />
<circle cx="566" cy="64" r="5.5" fill="#d4e8fa" stroke="#2a6ab8" stroke-width="1.6"/><path d="M570,68 l5,5" stroke="#c8a830" stroke-width="2.6"/>
<path d="M563,64 h6 M566,61 v6" stroke="#2a6ab8" stroke-width="1.6"/>
<circle cx="594" cy="64" r="5.5" fill="#d4e8fa" stroke="#2a6ab8" stroke-width="1.6"/><path d="M598,68 l5,5" stroke="#c8a830" stroke-width="2.6"/>
<path d="M591,64 h6" stroke="#2a6ab8" stroke-width="1.6"/>
<rect x="616" y="59" width="8" height="7" fill="#3a9a3a" />
<rect x="624" y="59" width="8" height="7" fill="#2a5ab0" />
<rect x="616" y="66" width="8" height="7" fill="#2a5ab0" />
<rect x="624" y="66" width="8" height="7" fill="#3a9a3a" />
<rect x="617" y="62" width="6" height="3" fill="#dde8f0" />
<rect x="625" y="62" width="6" height="3" fill="#dde8f0" />
<rect x="617" y="69" width="6" height="3" fill="#dde8f0" />
<rect x="625" y="69" width="6" height="3" fill="#dde8f0" />
<line x1="641.5" y1="55" x2="641.5" y2="76" stroke="#b8b8b8" stroke-width="1" />
<line x1="642.5" y1="55" x2="642.5" y2="76" stroke="#ffffff" stroke-width="1" />
<rect x="646" y="54" width="25" height="23" fill="#f6f8f6" />
<line x1="646" y1="54.5" x2="671" y2="54.5" stroke="#8e8e8e" stroke-width="1" />
<line x1="646.5" y1="54" x2="646.5" y2="77" stroke="#8e8e8e" stroke-width="1" />
<line x1="647" y1="76.5" x2="671" y2="76.5" stroke="#fafafa" stroke-width="1" />
<line x1="670.5" y1="55" x2="670.5" y2="77" stroke="#fafafa" stroke-width="1" />
<path d="M655,60.5 v13.5 M653,71.5 h13.5" stroke="#3a3a3a" stroke-width="1.1" fill="none"/>
<path d="M653.2,62.0 l1.8,-2.3 l1.8,2.3 z M665,69.7 l2.3,1.8 l-2.3,1.8 z" fill="#3a3a3a"/>
<path d="M660,61 l5,3.5 l-5,3.5 z" fill="none" stroke="#20a020" stroke-width="1.3"/>
<rect x="674" y="54" width="24" height="23" fill="#f6f8f6" />
<line x1="674" y1="54.5" x2="698" y2="54.5" stroke="#8e8e8e" stroke-width="1" />
<line x1="674.5" y1="54" x2="674.5" y2="77" stroke="#8e8e8e" stroke-width="1" />
<line x1="675" y1="76.5" x2="698" y2="76.5" stroke="#fafafa" stroke-width="1" />
<line x1="697.5" y1="55" x2="697.5" y2="77" stroke="#fafafa" stroke-width="1" />
<path d="M683,60.5 v13.5 M681,71.5 h13.5" stroke="#3a3a3a" stroke-width="1.1" fill="none"/>
<path d="M681.2,62.0 l1.8,-2.3 l1.8,2.3 z M693,69.7 l2.3,1.8 l-2.3,1.8 z" fill="#3a3a3a"/>
<path d="M688.5,59 v10 M693,61.5 l-4,3 l4,3" stroke="#b02020" stroke-width="1.3" fill="none"/>
<line x1="703.5" y1="55" x2="703.5" y2="76" stroke="#b8b8b8" stroke-width="1" />
<line x1="704.5" y1="55" x2="704.5" y2="76" stroke="#ffffff" stroke-width="1" />
<path d="M713.5,59.5 h7 l3,3 v10 h-10 z" fill="#fafafa" stroke="#555"/><path d="M716,57.5 h6" stroke="#555"/>
<path d="M723.5,66 h3 v3.5 h3.5 v3 h-3.5 v3.5 h-3 v-3.5 h-3.5 v-3 h3.5 z" fill="#22c422" stroke="#137013" stroke-width="0.8"/>
<path d="M733.5,65 h5 l-2.5,3 z" fill="#000"/>
<circle cx="757" cy="66" r="7.5" fill="#1e5aa8"/><circle cx="757" cy="66" r="4.8" fill="#f4f8fc"/><path d="M757,62 v4 h3" stroke="#b02020" stroke-width="1.1" fill="none"/>
<path d="M770.5,65 h5 l-2.5,3 z" fill="#000"/>
<rect x="786.5" y="58.5" width="15" height="14" fill="#f4f8fc" stroke="#2a5a98"/><rect x="787" y="59" width="14" height="2" fill="#2a5a98"/><path d="M788,66 q3,-3 6,-1 t6,-1 M788,71 q3,-3 6,-1 t6,-1" stroke="#b05020" fill="none"/>
<path d="M807,65 h5 l-2.5,3 z" fill="#000"/>
<line x1="818" y1="53" x2="818" y2="78" stroke="#a8a8a8" stroke-width="1" />
<rect x="822" y="56" width="3" height="1" fill="#a8a8a8" />
<rect x="822" y="58" width="3" height="1" fill="#a8a8a8" />
<rect x="822" y="60" width="3" height="1" fill="#a8a8a8" />
<rect x="822" y="62" width="3" height="1" fill="#a8a8a8" />
<rect x="822" y="64" width="3" height="1" fill="#a8a8a8" />
<rect x="822" y="66" width="3" height="1" fill="#a8a8a8" />
<rect x="822" y="68" width="3" height="1" fill="#a8a8a8" />
<rect x="822" y="70" width="3" height="1" fill="#a8a8a8" />
<rect x="822" y="72" width="3" height="1" fill="#a8a8a8" />
<rect x="822" y="74" width="3" height="1" fill="#a8a8a8" />
<rect x="828" y="54" width="24" height="23" fill="#f6f8f6" />
<line x1="828" y1="54.5" x2="852" y2="54.5" stroke="#8e8e8e" stroke-width="1" />
<line x1="828.5" y1="54" x2="828.5" y2="77" stroke="#8e8e8e" stroke-width="1" />
<line x1="829" y1="76.5" x2="852" y2="76.5" stroke="#fafafa" stroke-width="1" />
<line x1="851.5" y1="55" x2="851.5" y2="77" stroke="#fafafa" stroke-width="1" />
<path d="M836,58 v14 l3.5,-3.5 l3,6 l2,-1 l-3,-5.5 h5 z" fill="#333"/>
<path d="M868.5,58 v16 M861,66 h15" stroke="#444" stroke-width="1.2"/>
<line x1="885.5" y1="55" x2="885.5" y2="76" stroke="#b8b8b8" stroke-width="1" />
<line x1="886.5" y1="55" x2="886.5" y2="76" stroke="#ffffff" stroke-width="1" />
<line x1="902.5" y1="60" x2="902.5" y2="72" stroke="#444" stroke-width="1.2" />
<line x1="925" y1="66.3" x2="937" y2="66.3" stroke="#444" stroke-width="1.6" />
<line x1="953" y1="72.5" x2="964.5" y2="61.5" stroke="#777" stroke-width="1.6" />
<path d="M980,72 l5,-9 M983,72 l5,-9 M986,72 l5,-9 M980,66 h10 M981,69 h10" stroke="#555" stroke-width="1" fill="none"/>
<text x="989.5" y="74.5" font-family="Liberation Sans" font-size="6.5" fill="#444" font-weight="bold" >E</text>
<line x1="1008" y1="59.5" x2="1021" y2="59.5" stroke="#666" stroke-width="1" stroke-dasharray="1 1" />
<line x1="1008" y1="63.5" x2="1021" y2="63.5" stroke="#666" stroke-width="1" stroke-dasharray="1 1" />
<line x1="1008" y1="67.5" x2="1021" y2="67.5" stroke="#666" stroke-width="1" stroke-dasharray="1 1" />
<line x1="1008" y1="71.5" x2="1021" y2="71.5" stroke="#666" stroke-width="1" stroke-dasharray="1 1" />
<text x="1017.5" y="74.5" font-family="Liberation Sans" font-size="6.5" fill="#444" font-weight="bold" >F</text>
<text x="1038.8" y="70.3" font-family="Liberation Sans" font-size="11.5" fill="#555" textLength="8" lengthAdjust="spacingAndGlyphs" font-weight="bold" >A</text>
<rect x="1065" y="60" width="11.5" height="12.5" fill="none" stroke="#555" stroke-dasharray="1 1"/>
<text x="1066.8" y="70.5" font-family="Liberation Sans" font-size="11" fill="#555" textLength="8" lengthAdjust="spacingAndGlyphs" font-weight="bold" >T</text>
<path d="M1093,62 l3,-3 l3,3 l-3,3 z M1100,69 l3,-3 l3,3 l-3,3 z" fill="#333"/><path d="M1096,65 l4,4" stroke="#333" stroke-width="1.3"/>
<path d="M1111.5,65 h5 l-2.5,3 z" fill="#000"/>
<line x1="1122.5" y1="53" x2="1122.5" y2="78" stroke="#a8a8a8" stroke-width="1" />
<rect x="1126" y="56" width="3" height="1" fill="#a8a8a8" />
<rect x="1126" y="58" width="3" height="1" fill="#a8a8a8" />
<rect x="1126" y="60" width="3" height="1" fill="#a8a8a8" />
<rect x="1126" y="62" width="3" height="1" fill="#a8a8a8" />
<rect x="1126" y="64" width="3" height="1" fill="#a8a8a8" />
<rect x="1126" y="66" width="3" height="1" fill="#a8a8a8" />
<rect x="1126" y="68" width="3" height="1" fill="#a8a8a8" />
<rect x="1126" y="70" width="3" height="1" fill="#a8a8a8" />
<rect x="1126" y="72" width="3" height="1" fill="#a8a8a8" />
<rect x="1126" y="74" width="3" height="1" fill="#a8a8a8" />
<rect x="1300" y="54" width="25" height="23" fill="#f6f8f6" />
<line x1="1300" y1="54.5" x2="1325" y2="54.5" stroke="#8e8e8e" stroke-width="1" />
<line x1="1300.5" y1="54" x2="1300.5" y2="77" stroke="#8e8e8e" stroke-width="1" />
<line x1="1301" y1="76.5" x2="1325" y2="76.5" stroke="#fafafa" stroke-width="1" />
<line x1="1324.5" y1="55" x2="1324.5" y2="77" stroke="#fafafa" stroke-width="1" />
<text x="1137.7" y="69.8" font-family="Liberation Sans" font-size="9.5" fill="#3a3a3a" textLength="12.7" lengthAdjust="spacingAndGlyphs" >M1</text>
<text x="1165.9" y="69.8" font-family="Liberation Sans" font-size="9.5" fill="#3a3a3a" textLength="12.6" lengthAdjust="spacingAndGlyphs" >M5</text>
<text x="1191.9" y="69.8" font-family="Liberation Sans" font-size="9.5" fill="#3a3a3a" textLength="17.6" lengthAdjust="spacingAndGlyphs" >M15</text>
<text x="1219.7" y="69.8" font-family="Liberation Sans" font-size="9.5" fill="#3a3a3a" textLength="17.9" lengthAdjust="spacingAndGlyphs" >M30</text>
<text x="1250.7" y="69.8" font-family="Liberation Sans" font-size="9.5" fill="#3a3a3a" textLength="11.5" lengthAdjust="spacingAndGlyphs" >H1</text>
<text x="1277.7" y="69.8" font-family="Liberation Sans" font-size="9.5" fill="#3a3a3a" textLength="12.6" lengthAdjust="spacingAndGlyphs" >H4</text>
<text x="1306.5" y="69.8" font-family="Liberation Sans" font-size="9.5" fill="#3a3a3a" textLength="12" lengthAdjust="spacingAndGlyphs" >D1</text>
<text x="1333.9" y="69.8" font-family="Liberation Sans" font-size="9.5" fill="#3a3a3a" textLength="14.1" lengthAdjust="spacingAndGlyphs" >W1</text>
<text x="1360.7" y="69.8" font-family="Liberation Sans" font-size="9.5" fill="#3a3a3a" textLength="14.7" lengthAdjust="spacingAndGlyphs" >MN</text>
<line x1="1383.5" y1="53" x2="1383.5" y2="78" stroke="#a8a8a8" stroke-width="1" />
<rect x="1720.5" y="53.5" width="172" height="23" fill="#fff" stroke="#b8b8b8"/>
<circle cx="1883" cy="62" r="3.6" fill="none" stroke="#3a6ab0" stroke-width="1.6"/><path d="M1880.5,64.5 l-4,4" stroke="#3a6ab0" stroke-width="2"/>
<line x1="1894.5" y1="53" x2="1894.5" y2="77" stroke="#c8c8c8" stroke-width="1" />
<path d="M1899,58 h16 v11 h-10 l-4,4 v-4 h-2 z" fill="#4a7ab8"/>
<text x="1904.5" y="67.8" font-family="Liberation Sans" font-size="10" fill="#fff" font-weight="bold" >5</text>
</g>
<rect x="9" y="1007" width="1911" height="21" fill="#f0f0f0" />
<line x1="9" y1="1007.5" x2="1920" y2="1007.5" stroke="#000" stroke-width="1" />
<line x1="9.5" y1="1008" x2="9.5" y2="1026" stroke="#8a8a8a" stroke-width="1.5" />
<rect x="169" y="1007" width="74" height="18" fill="#fff"/>
<path d="M169,1007.5 v17.5 h74 v-17.5" fill="none" stroke="#000" stroke-width="1.2"/>
<text x="23" y="1020" font-family="Liberation Sans" font-size="12" fill="#727272" textLength="68" lengthAdjust="spacingAndGlyphs" >USDX,Monthly</text>
<text x="113.3" y="1020" font-family="Liberation Sans" font-size="12" fill="#727272" textLength="43.7" lengthAdjust="spacingAndGlyphs" >USDX,H4</text>
<text x="178.3" y="1020" font-family="Liberation Sans" font-size="12" fill="#000" textLength="53" lengthAdjust="spacingAndGlyphs" >USDX,Daily</text>
<text x="254.3" y="1020" font-family="Liberation Sans" font-size="12" fill="#727272" textLength="52.7" lengthAdjust="spacingAndGlyphs" >EURX,Daily</text>
<text x="329.5" y="1020" font-family="Liberation Sans" font-size="12" fill="#727272" textLength="43.5" lengthAdjust="spacingAndGlyphs" >EURX,H4</text>
<text x="394.3" y="1020" font-family="Liberation Sans" font-size="12" fill="#727272" textLength="52.7" lengthAdjust="spacingAndGlyphs" >EURX,Daily</text>
<text x="470" y="1020" font-family="Liberation Sans" font-size="12" fill="#727272" textLength="53" lengthAdjust="spacingAndGlyphs" >USDX,Daily</text>
<text x="545" y="1020" font-family="Liberation Sans" font-size="12" fill="#727272" textLength="44.3" lengthAdjust="spacingAndGlyphs" >EURX,H4</text>
<text x="609.3" y="1020" font-family="Liberation Sans" font-size="12" fill="#727272" textLength="43.7" lengthAdjust="spacingAndGlyphs" >EURX,H4</text>
<text x="675" y="1020" font-family="Liberation Sans" font-size="12" fill="#727272" textLength="57" lengthAdjust="spacingAndGlyphs" >EURGBP,H4</text>
<text x="755" y="1020" font-family="Liberation Sans" font-size="12" fill="#727272" textLength="57" lengthAdjust="spacingAndGlyphs" >EURGBP,H4</text>
<text x="834.3" y="1020" font-family="Liberation Sans" font-size="12" fill="#727272" textLength="65.7" lengthAdjust="spacingAndGlyphs" >EURGBP,Daily</text>
<text x="921.7" y="1020" font-family="Liberation Sans" font-size="12" fill="#727272" textLength="58.3" lengthAdjust="spacingAndGlyphs" >EURCHF,H1</text>
<text x="1002.3" y="1020" font-family="Liberation Sans" font-size="12" fill="#727272" textLength="57.7" lengthAdjust="spacingAndGlyphs" >USDCHF,H4</text>
<text x="1081" y="1020" font-family="Liberation Sans" font-size="12" fill="#727272" textLength="79" lengthAdjust="spacingAndGlyphs" >USDCHF,Weekly</text>
<text x="1181" y="1020" font-family="Liberation Sans" font-size="12" fill="#727272" textLength="67.3" lengthAdjust="spacingAndGlyphs" >USDCHF,Daily</text>
<line x1="104.3" y1="1011" x2="104.3" y2="1023" stroke="#555" stroke-width="1" />
<line x1="320.5" y1="1011" x2="320.5" y2="1023" stroke="#555" stroke-width="1" />
<line x1="384.5" y1="1011" x2="384.5" y2="1023" stroke="#555" stroke-width="1" />
<line x1="460.5" y1="1011" x2="460.5" y2="1023" stroke="#555" stroke-width="1" />
<line x1="536.3" y1="1011" x2="536.3" y2="1023" stroke="#555" stroke-width="1" />
<line x1="600" y1="1011" x2="600" y2="1023" stroke="#555" stroke-width="1" />
<line x1="665" y1="1011" x2="665" y2="1023" stroke="#555" stroke-width="1" />
<line x1="744.5" y1="1011" x2="744.5" y2="1023" stroke="#555" stroke-width="1" />
<line x1="824.3" y1="1011" x2="824.3" y2="1023" stroke="#555" stroke-width="1" />
<line x1="912.6" y1="1011" x2="912.6" y2="1023" stroke="#555" stroke-width="1" />
<line x1="992.3" y1="1011" x2="992.3" y2="1023" stroke="#555" stroke-width="1" />
<line x1="1072.3" y1="1011" x2="1072.3" y2="1023" stroke="#555" stroke-width="1" />
<line x1="1172.3" y1="1011" x2="1172.3" y2="1023" stroke="#555" stroke-width="1" />
<line x1="1260.7" y1="1011" x2="1260.7" y2="1023" stroke="#555" stroke-width="1" />
<path d="M1899,1013 l-4,3.5 l4,3.5 z M1912,1013 l4,3.5 l-4,3.5 z" fill="#b0b0b0"/>
<rect x="9" y="1028" width="1911" height="28" fill="#f0f0f0" />
<line x1="9" y1="1027.5" x2="1920" y2="1027.5" stroke="#fbfbfb" stroke-width="1" />
<rect x="9" y="1039" width="1911" height="1" fill="#f8f6f7" />
<text x="10.6" y="1042.8" font-family="Liberation Sans" font-size="11.5" fill="#000" textLength="89.4" lengthAdjust="spacingAndGlyphs" >For Help, press F1</text>
<line x1="1198.5" y1="1031" x2="1198.5" y2="1050" stroke="#bdbdbd" stroke-width="1" />
<line x1="1314" y1="1031" x2="1314" y2="1050" stroke="#bdbdbd" stroke-width="1" />
<line x1="1415.8" y1="1031" x2="1415.8" y2="1050" stroke="#bdbdbd" stroke-width="1" />
<line x1="1487" y1="1031" x2="1487" y2="1050" stroke="#bdbdbd" stroke-width="1" />
<line x1="1558.4" y1="1031" x2="1558.4" y2="1050" stroke="#bdbdbd" stroke-width="1" />
<line x1="1626.2" y1="1031" x2="1626.2" y2="1050" stroke="#bdbdbd" stroke-width="1" />
<line x1="1696.4" y1="1031" x2="1696.4" y2="1050" stroke="#bdbdbd" stroke-width="1" />
<line x1="1762.7" y1="1031" x2="1762.7" y2="1050" stroke="#bdbdbd" stroke-width="1" />
<text x="1204" y="1043" font-family="Liberation Sans" font-size="11.5" fill="#000" textLength="37" lengthAdjust="spacingAndGlyphs" >Default</text>
<text x="1320.7" y="1043" font-family="Liberation Sans" font-size="11.5" fill="#000" textLength="83" lengthAdjust="spacingAndGlyphs" >2014.11.17 00:00</text>
<text x="1422.8" y="1043" font-family="Liberation Sans" font-size="11.5" fill="#000" textLength="41.5" lengthAdjust="spacingAndGlyphs" >O: 87.60</text>
<text x="1493.3" y="1043" font-family="Liberation Sans" font-size="11.5" fill="#000" textLength="41.5" lengthAdjust="spacingAndGlyphs" >H: 87.97</text>
<text x="1564.2" y="1043" font-family="Liberation Sans" font-size="11.5" fill="#000" textLength="40.5" lengthAdjust="spacingAndGlyphs" >L: 87.15</text>
<text x="1632" y="1043" font-family="Liberation Sans" font-size="11.5" fill="#000" textLength="41" lengthAdjust="spacingAndGlyphs" >C: 87.92</text>
<text x="1702.2" y="1043" font-family="Liberation Sans" font-size="11.5" fill="#000" textLength="42.5" lengthAdjust="spacingAndGlyphs" >V: 17444</text>
<text x="1831.2" y="1043" font-family="Liberation Sans" font-size="11.5" fill="#000" textLength="37.5" lengthAdjust="spacingAndGlyphs" >93/1 kb</text>
<rect x="1767.5" y="1041" width="1.2" height="6" fill="#7cb818" />
<rect x="1769.5" y="1038" width="1.2" height="9" fill="#c8a018" />
<rect x="1771.5" y="1040" width="1.2" height="7" fill="#c03010" />
<rect x="1773.5" y="1037" width="1.2" height="10" fill="#7cb818" />
<rect x="1775.5" y="1039" width="1.2" height="8" fill="#c8a018" />
<rect x="1777.5" y="1038" width="1.2" height="9" fill="#c03010" />
<rect x="1779.5" y="1041" width="1.2" height="6" fill="#7cb818" />
<rect x="1781.5" y="1037" width="1.2" height="10" fill="#c8a018" />
<rect x="1783.5" y="1039" width="1.2" height="8" fill="#c03010" />
<rect x="1785.5" y="1038" width="1.2" height="9" fill="#7cb818" />
<rect x="1787.5" y="1040" width="1.2" height="7" fill="#c8a018" />
<rect x="1789.5" y="1037" width="1.2" height="10" fill="#c03010" />
<rect x="0" y="1040" width="1920" height="16" fill="rgba(90,18,52,0.45)" />
<rect x="0" y="1040" width="1920" height="1" fill="rgba(60,20,40,0.25)" />
<rect x="0" y="1041" width="1920" height="7" fill="rgba(255,255,255,0.05)" />
<rect x="0" y="1056" width="1920" height="24" fill="#4d2c3d" />
<rect x="0" y="1056" width="1920" height="1" fill="#472536" />
<path d="M12,1049 l10.5,-1.5 v11 h-10.5 z M24,1047.3 l14,-2 v13.2 h-14 z M12,1060.5 h10.5 v11 l-10.5,-1.5 z M24,1060.5 h14 v13.2 l-14,-2 z" fill="#fff"/>
<circle cx="82" cy="1060" r="12.5" fill="#2ea6e4"/><circle cx="82" cy="1060" r="6.8" fill="#4d2c3d"/><rect x="75" y="1057.5" width="15" height="3.6" fill="#2ea6e4"/><path d="M82,1061.2 L96,1061.2 L96,1066.5 L87,1066.5 Z" fill="#4d2c3d"/><circle cx="82" cy="1060" r="12.5" fill="none" stroke="#1a78c0" stroke-width="1"/>
<ellipse cx="81" cy="1059" rx="18" ry="6.5" transform="rotate(-42 81 1059)" fill="none" stroke="#f2c230" stroke-width="2.6" stroke-dasharray="60 12" stroke-dashoffset="10"/>
<rect x="128" y="1047" width="30" height="24" fill="#e8c860" rx="1"/><rect x="128" y="1047" width="30" height="5" fill="#c8a040"/><rect x="133" y="1061" width="20" height="10" fill="#50a0e0"/><rect x="138" y="1063" width="10" height="3" fill="#e8f4fc"/>
<rect x="189" y="1048" width="6" height="5" fill="#7a7a7a" />
<rect x="196" y="1048" width="6" height="5" fill="#9a9a9a" />
<rect x="203" y="1048" width="6" height="5" fill="#7a7a7a" />
<rect x="210" y="1048" width="6" height="5" fill="#9a9a9a" />
<rect x="192" y="1054" width="6" height="5" fill="#9a9a9a" />
<rect x="199" y="1054" width="6" height="5" fill="#7a7a7a" />
<rect x="206" y="1054" width="6" height="5" fill="#9a9a9a" />
<rect x="213" y="1054" width="6" height="5" fill="#7a7a7a" />
<rect x="189" y="1060" width="6" height="5" fill="#7a7a7a" />
<rect x="196" y="1060" width="6" height="5" fill="#9a9a9a" />
<rect x="203" y="1060" width="6" height="5" fill="#7a7a7a" />
<rect x="210" y="1060" width="6" height="5" fill="#9a9a9a" />
<rect x="192" y="1066" width="6" height="5" fill="#9a9a9a" />
<rect x="199" y="1066" width="6" height="5" fill="#7a7a7a" />
<rect x="206" y="1066" width="6" height="5" fill="#9a9a9a" />
<rect x="213" y="1066" width="6" height="5" fill="#7a7a7a" />
<rect x="256" y="1046" width="22" height="27" fill="#d8e8f8" stroke="#5a8ac8" rx="1"/><rect x="259" y="1049" width="16" height="6" fill="#f8fcff" stroke="#7a9ac8" stroke-width="0.6"/>
<rect x="259" y="1058" width="3" height="2.6" fill="#5a8ac8" />
<rect x="263.2" y="1058" width="3" height="2.6" fill="#5a8ac8" />
<rect x="267.4" y="1058" width="3" height="2.6" fill="#5a8ac8" />
<rect x="271.6" y="1058" width="3" height="2.6" fill="#5a8ac8" />
<rect x="259" y="1061.6" width="3" height="2.6" fill="#5a8ac8" />
<rect x="263.2" y="1061.6" width="3" height="2.6" fill="#5a8ac8" />
<rect x="267.4" y="1061.6" width="3" height="2.6" fill="#5a8ac8" />
<rect x="271.6" y="1061.6" width="3" height="2.6" fill="#5a8ac8" />
<rect x="259" y="1065.2" width="3" height="2.6" fill="#5a8ac8" />
<rect x="263.2" y="1065.2" width="3" height="2.6" fill="#5a8ac8" />
<rect x="267.4" y="1065.2" width="3" height="2.6" fill="#5a8ac8" />
<rect x="271.6" y="1065.2" width="3" height="2.6" fill="#5a8ac8" />
<rect x="259" y="1068.8" width="3" height="2.6" fill="#5a8ac8" />
<rect x="263.2" y="1068.8" width="3" height="2.6" fill="#5a8ac8" />
<rect x="267.4" y="1068.8" width="3" height="2.6" fill="#5a8ac8" />
<rect x="271.6" y="1068.8" width="3" height="2.6" fill="#5a8ac8" />
<rect x="300.5" y="1040.5" width="57" height="39" fill="rgba(255,255,255,0.13)" stroke="rgba(255,255,255,0.28)"/>
<rect x="362.5" y="1040.5" width="57" height="39" fill="rgba(255,255,255,0.13)" stroke="rgba(255,255,255,0.28)"/>
<rect x="424.5" y="1040.5" width="57" height="39" fill="rgba(255,255,255,0.13)" stroke="rgba(255,255,255,0.28)"/>
<circle cx="329" cy="1060" r="14" fill="#db4437"/><path d="M329,1060 L316.9,1053 A14,14 0 0 0 322,1072.1 Z" fill="#0f9d58"/><path d="M329,1060 L322,1072.1 A14,14 0 0 0 343,1060 Z" fill="#f4c20d"/><path d="M329,1060 L343,1060 A14,14 0 0 0 341.1,1053 Z" fill="#db4437"/><circle cx="329" cy="1060" r="6.2" fill="#fff"/><circle cx="329" cy="1060" r="4.8" fill="#4285f4"/>
<rect x="384" y="1047" width="20" height="22" fill="#cfe0f4" stroke="#5a8ac8"/><path d="M387,1058 l3,-3 l3,3 l3,-4 l4,4" stroke="#3a6ab8" fill="none"/><circle cx="383" cy="1062" r="3.5" fill="#e8a060"/><rect x="378" y="1065" width="10" height="7" fill="#5ab040"/>
<rect x="437" y="1044" width="31" height="31" fill="#222"/>
<text x="440" y="1066" font-family="Liberation Sans" font-size="15" fill="#c8c8c8" >G</text>
<circle cx="460" cy="1060.5" r="5.5" fill="none" stroke="#20c060" stroke-width="2"/>
<rect x="1589.5" y="1052.5" width="28" height="15" fill="none" stroke="#fff" stroke-width="1.2"/>
<rect x="1592" y="1055" width="2" height="2" fill="#fff" />
<rect x="1595.1" y="1055" width="2" height="2" fill="#fff" />
<rect x="1598.2" y="1055" width="2" height="2" fill="#fff" />
<rect x="1601.3" y="1055" width="2" height="2" fill="#fff" />
<rect x="1604.4" y="1055" width="2" height="2" fill="#fff" />
<rect x="1607.5" y="1055" width="2" height="2" fill="#fff" />
<rect x="1610.6" y="1055" width="2" height="2" fill="#fff" />
<rect x="1613.7" y="1055" width="2" height="2" fill="#fff" />
<rect x="1592" y="1058.3" width="2" height="2" fill="#fff" />
<rect x="1595.1" y="1058.3" width="2" height="2" fill="#fff" />
<rect x="1598.2" y="1058.3" width="2" height="2" fill="#fff" />
<rect x="1601.3" y="1058.3" width="2" height="2" fill="#fff" />
<rect x="1604.4" y="1058.3" width="2" height="2" fill="#fff" />
<rect x="1607.5" y="1058.3" width="2" height="2" fill="#fff" />
<rect x="1610.6" y="1058.3" width="2" height="2" fill="#fff" />
<rect x="1613.7" y="1058.3" width="2" height="2" fill="#fff" />
<rect x="1592" y="1061.6" width="2" height="2" fill="#fff" />
<rect x="1595.1" y="1061.6" width="2" height="2" fill="#fff" />
<rect x="1598.2" y="1061.6" width="2" height="2" fill="#fff" />
<rect x="1601.3" y="1061.6" width="2" height="2" fill="#fff" />
<rect x="1604.4" y="1061.6" width="2" height="2" fill="#fff" />
<rect x="1607.5" y="1061.6" width="2" height="2" fill="#fff" />
<rect x="1610.6" y="1061.6" width="2" height="2" fill="#fff" />
<rect x="1613.7" y="1061.6" width="2" height="2" fill="#fff" />
<path d="M1633,1063 l3.5,-4 l3.5,4 z" fill="#fff"/>
<path d="M1655,1066 l5,-9 l6,3 l-5,9 z" fill="#c8c8c8" opacity="0.8"/><path d="M1663,1059 l5,-4" stroke="#a0a0c8" stroke-width="1.5"/>
<path d="M1683,1054 l6,-1 v6 h-6 z M1690,1053 l8,-1.2 v7.2 h-8 z M1683,1060 h6 v6 l-6,-1 z M1690,1060 h8 v7.2 l-8,-1.2 z" fill="#fff"/>
<rect x="1708.5" y="1054.5" width="14" height="11" fill="none" stroke="#fff" stroke-width="1.5"/><rect x="1710" y="1059" width="11" height="2" fill="#fff"/>
<rect x="1733.5" y="1054.5" width="7" height="12" fill="none" stroke="#fff" stroke-width="1.3"/><rect x="1729" y="1055" width="3" height="6" fill="#fff"/><rect x="1735" y="1059" width="4" height="6.5" fill="#fff"/>
<rect x="1755" y="1063" width="2" height="2" fill="#fff" />
<rect x="1758" y="1061" width="2" height="4" fill="#fff" />
<rect x="1761" y="1059" width="2" height="6" fill="#fff" />
<rect x="1764" y="1057" width="2" height="8" fill="#fff" />
<rect x="1767" y="1055" width="2" height="10" fill="#fff" />
<path d="M1781,1058 h3 l4,-4 v13 l-4,-4 h-3 z" fill="#fff"/><path d="M1790,1057 q2,3 0,6" stroke="#fff" fill="none"/>
<text x="1809" y="1065" font-family="Liberation Sans" font-size="12" fill="#fff" textLength="22.5" lengthAdjust="spacingAndGlyphs" >ENG</text>
<text x="1854.2" y="1058" font-family="Liberation Sans" font-size="12" fill="#fff" textLength="41.7" lengthAdjust="spacingAndGlyphs" >4:48 PM</text>
<text x="1846.2" y="1075" font-family="Liberation Sans" font-size="12" fill="#fff" textLength="57.5" lengthAdjust="spacingAndGlyphs" >28/06/2015</text>
</svg></body></html>
